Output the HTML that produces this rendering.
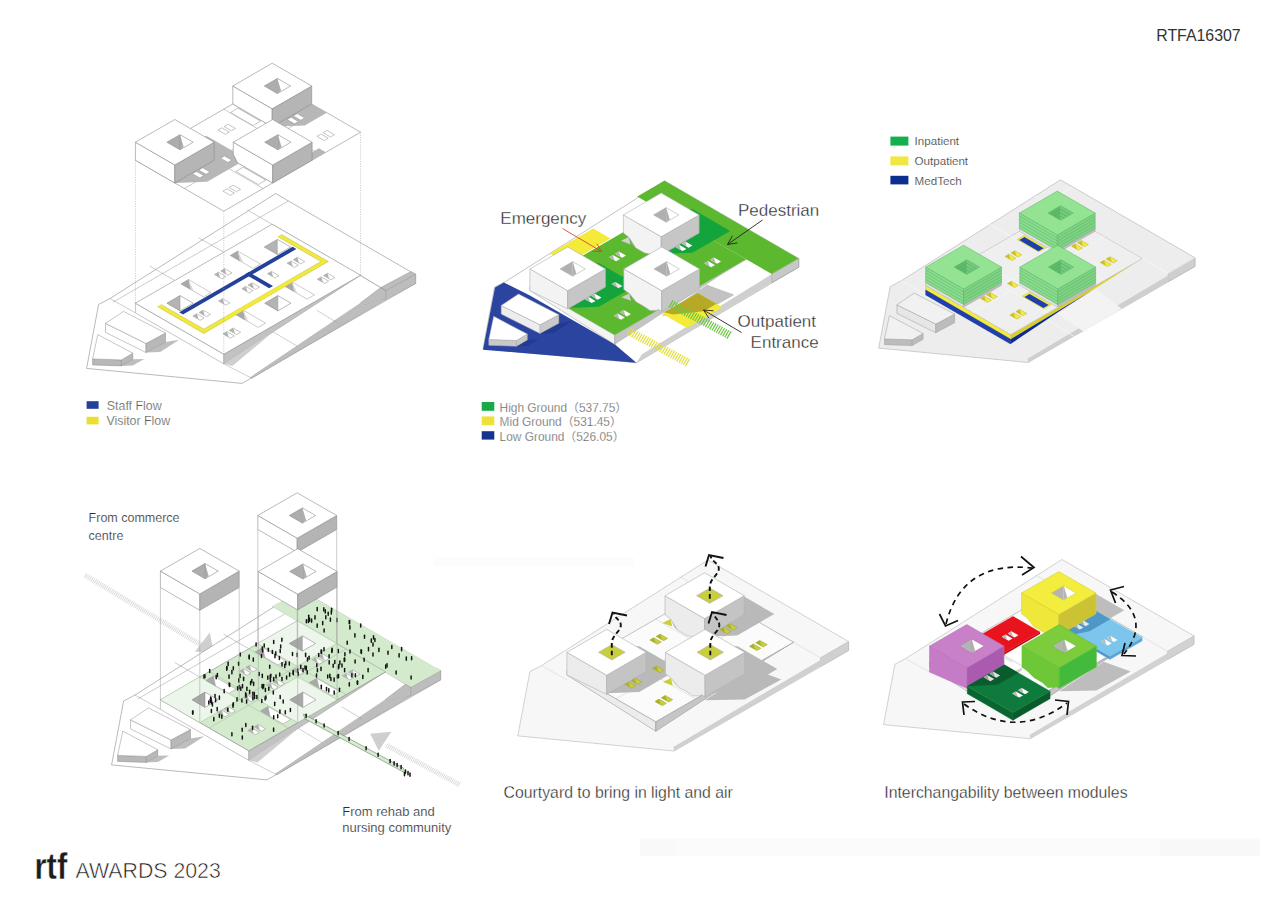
<!DOCTYPE html>
<html lang="en"><head><meta charset="utf-8"><title>RTFA16307</title>
<style>
html,body{margin:0;padding:0;background:#fff;}
body{width:1273px;height:900px;overflow:hidden;font-family:"Liberation Sans",sans-serif;}
svg{display:block;font-family:"Liberation Sans","Noto Sans CJK SC",sans-serif;}
</style></head><body>
<svg width="1273" height="900" viewBox="0 0 1273 900">
<rect width="1273" height="900" fill="#fff"/>
<rect x="640" y="838" width="620" height="18" fill="#fbfbfb"/>
<rect x="1160" y="840" width="100" height="16" fill="#f8f8f8"/>
<rect x="640" y="840" width="36" height="16" fill="#f9f9f9"/>
<rect x="434" y="557" width="200" height="9" fill="#fcfcfc"/>
<text x="1156.2" y="41.0" font-size="15.9" fill="#333" >RTFA16307</text>
<polygon points="708.0,560.0 848.6,641.5 848.6,650.5 674.2,751.0 517.8,735.9 529.9,671.6 541.4,665.6" fill="#f7f7f7" stroke="#b5b5b5" stroke-width="0.6" stroke-linejoin="round" />
<polygon points="848.6,641.5 848.6,650.5 820.5,666.6 820.5,657.8" fill="#d0d0d0" stroke="#b5b5b5" stroke-width="0.5" stroke-linejoin="round" />
<polygon points="820.5,659.9 820.5,666.6 674.2,751.0 673.4,747.0" fill="#d0d0d0" stroke="none" stroke-width="0.6" stroke-linejoin="round" />
<polyline points="679.3,576.3 820.5,657.8" fill="none" stroke="#cfcfcf" stroke-width="0.5" />
<polyline points="820.5,657.8 848.6,641.5" fill="none" stroke="#cfcfcf" stroke-width="0.5" />
<polyline points="541.4,665.6 567.0,679.9" fill="none" stroke="#cfcfcf" stroke-width="0.5" />
<polygon points="705.0,700.3 744.7,699.5 781.3,679.4 752.5,668.9" fill="#b9b9b9" stroke="none" stroke-width="0.6" stroke-linejoin="round" />
<polygon points="720.3,581.8 759.9,604.7 775.2,613.5 759.5,622.6 704.6,590.9" fill="#f7f7f7" stroke="none" stroke-width="0.6" stroke-linejoin="round" />
<polygon points="566.9,670.4 655.8,721.7 655.8,731.3 566.9,675.0" fill="#ececec" stroke="#8a8a8a" stroke-width="0.5" stroke-linejoin="round" />
<polygon points="655.8,721.7 793.5,642.2 767.3,658.3 655.8,731.3" fill="#c6c6c6" stroke="#8a8a8a" stroke-width="0.5" stroke-linejoin="round" />
<polygon points="704.6,590.9 793.5,642.2 655.8,721.7 566.9,670.4" fill="#fbfbfb" stroke="#8a8a8a" stroke-width="0.5" stroke-linejoin="round" />
<polyline points="744.2,613.8 606.6,693.3" fill="none" stroke="#c9c9c9" stroke-width="0.5" />
<polyline points="753.8,619.3 616.2,698.8" fill="none" stroke="#c9c9c9" stroke-width="0.5" />
<polyline points="665.0,613.8 753.8,665.1" fill="none" stroke="#c9c9c9" stroke-width="0.5" />
<polyline points="655.8,619.1 744.7,670.4" fill="none" stroke="#c9c9c9" stroke-width="0.5" />
<polyline points="616.2,642.0 705.0,693.3" fill="none" stroke="#c9c9c9" stroke-width="0.5" />
<polyline points="606.6,647.5 695.5,698.8" fill="none" stroke="#c9c9c9" stroke-width="0.5" />
<polygon points="665.0,613.8 704.6,636.7 737.2,635.4 774.3,614.0 732.4,589.8 704.6,590.9" fill="#b9b9b9" stroke="none" stroke-width="0.6" stroke-linejoin="round" />
<polygon points="566.9,670.4 606.6,693.3 639.2,692.0 678.8,669.1 639.2,646.2 606.6,647.5" fill="#b9b9b9" stroke="none" stroke-width="0.6" stroke-linejoin="round" />
<polygon points="665.4,670.4 705.0,693.3 737.7,692.0 777.3,669.1 737.7,646.2 705.0,647.5" fill="#b9b9b9" stroke="none" stroke-width="0.6" stroke-linejoin="round" />
<polygon points="660.2,634.1 667.6,638.4 663.6,640.7 656.2,636.4" fill="#c9cf3c" stroke="#9aa02a" stroke-width="0.5" stroke-linejoin="round" />
<polygon points="660.2,634.1 656.2,636.4 661.9,639.7" fill="#aab02e" stroke="none" stroke-width="0.6" stroke-linejoin="round" />
<polygon points="653.9,637.7 661.3,642.0 657.3,644.3 649.9,640.0" fill="#c9cf3c" stroke="#9aa02a" stroke-width="0.5" stroke-linejoin="round" />
<polygon points="653.9,637.7 649.9,640.0 655.6,643.3" fill="#aab02e" stroke="none" stroke-width="0.6" stroke-linejoin="round" />
<polygon points="665.3,695.4 672.7,699.7 668.7,702.0 661.3,697.8" fill="#c9cf3c" stroke="#9aa02a" stroke-width="0.5" stroke-linejoin="round" />
<polygon points="665.3,695.4 661.3,697.8 666.9,701.0" fill="#aab02e" stroke="none" stroke-width="0.6" stroke-linejoin="round" />
<polygon points="659.0,699.1 666.4,703.3 662.4,705.7 655.0,701.4" fill="#c9cf3c" stroke="#9aa02a" stroke-width="0.5" stroke-linejoin="round" />
<polygon points="659.0,699.1 655.0,701.4 660.6,704.7" fill="#aab02e" stroke="none" stroke-width="0.6" stroke-linejoin="round" />
<polygon points="759.8,640.4 767.2,644.6 763.2,647.0 755.8,642.7" fill="#c9cf3c" stroke="#9aa02a" stroke-width="0.5" stroke-linejoin="round" />
<polygon points="759.8,640.4 755.8,642.7 761.4,646.0" fill="#aab02e" stroke="none" stroke-width="0.6" stroke-linejoin="round" />
<polygon points="753.5,644.0 760.9,648.3 756.9,650.6 749.5,646.3" fill="#c9cf3c" stroke="#9aa02a" stroke-width="0.5" stroke-linejoin="round" />
<polygon points="753.5,644.0 749.5,646.3 755.2,649.6" fill="#aab02e" stroke="none" stroke-width="0.6" stroke-linejoin="round" />
<polygon points="729.8,623.5 737.2,627.7 733.2,630.1 725.8,625.8" fill="#c9cf3c" stroke="#9aa02a" stroke-width="0.5" stroke-linejoin="round" />
<polygon points="729.8,623.5 725.8,625.8 731.5,629.1" fill="#aab02e" stroke="none" stroke-width="0.6" stroke-linejoin="round" />
<polygon points="723.5,627.1 731.0,631.4 726.9,633.7 719.5,629.4" fill="#c9cf3c" stroke="#9aa02a" stroke-width="0.5" stroke-linejoin="round" />
<polygon points="723.5,627.1 719.5,629.4 725.2,632.7" fill="#aab02e" stroke="none" stroke-width="0.6" stroke-linejoin="round" />
<polygon points="634.6,677.9 642.0,682.2 638.0,684.5 630.6,680.3" fill="#c9cf3c" stroke="#9aa02a" stroke-width="0.5" stroke-linejoin="round" />
<polygon points="634.6,677.9 630.6,680.3 636.3,683.5" fill="#aab02e" stroke="none" stroke-width="0.6" stroke-linejoin="round" />
<polygon points="628.3,681.6 635.7,685.8 631.7,688.2 624.3,683.9" fill="#c9cf3c" stroke="#9aa02a" stroke-width="0.5" stroke-linejoin="round" />
<polygon points="628.3,681.6 624.3,683.9 630.0,687.1" fill="#aab02e" stroke="none" stroke-width="0.6" stroke-linejoin="round" />
<polygon points="656.6,666.0 664.0,670.2 659.9,672.6 652.5,668.3" fill="#c9cf3c" stroke="#9aa02a" stroke-width="0.5" stroke-linejoin="round" />
<polygon points="656.6,666.0 652.5,668.3 658.2,671.6" fill="#aab02e" stroke="none" stroke-width="0.6" stroke-linejoin="round" />
<polygon points="665.0,595.7 704.6,618.6 704.6,637.7 701.1,635.7 699.4,636.7 692.4,636.7 686.7,635.4 677.7,630.2 670.7,619.1 665.0,614.8" fill="#ececec" stroke="#b0b0b0" stroke-width="0.6" stroke-linejoin="round" />
<polygon points="662.4,622.9 670.5,619.0 672.4,626.6" fill="#c9cf3c" stroke="none" stroke-width="0.6" stroke-linejoin="round" />
<polygon points="670.7,619.1 677.7,630.2 674.5,627.4" fill="#b9b9b9" stroke="none" stroke-width="0.6" stroke-linejoin="round" />
<polygon points="704.6,618.6 744.2,595.7 744.2,614.8 704.6,637.7" fill="#c4c4c4" stroke="#b0b0b0" stroke-width="0.6" stroke-linejoin="round" />
<polygon points="704.6,572.8 744.2,595.7 704.6,618.6 665.0,595.7" fill="#fff" stroke="#b0b0b0" stroke-width="0.6" stroke-linejoin="round" />
<polygon points="709.8,588.0 696.6,595.7 709.8,603.3" fill="#c9cf3c" stroke="none" stroke-width="0.6" stroke-linejoin="round" />
<polygon points="709.8,588.0 723.1,595.7 709.8,603.3" fill="#c9cf3c" stroke="none" stroke-width="0.6" stroke-linejoin="round" />
<polygon points="709.8,588.0 723.1,595.7 709.8,603.3 696.6,595.7" fill="none" stroke="#b0b0b0" stroke-width="0.6" stroke-linejoin="round" />
<polyline points="709.8,588.0 709.8,603.3" fill="none" stroke="#b0b0b0" stroke-width="0.5" />
<polygon points="566.9,652.3 606.6,675.2 606.6,694.3 566.9,675.0" fill="#ececec" stroke="#b0b0b0" stroke-width="0.6" stroke-linejoin="round" />
<polygon points="606.6,675.2 646.2,652.3 646.2,671.4 606.6,694.3" fill="#c4c4c4" stroke="#b0b0b0" stroke-width="0.6" stroke-linejoin="round" />
<polygon points="606.6,629.4 646.2,652.3 606.6,675.2 566.9,652.3" fill="#fff" stroke="#b0b0b0" stroke-width="0.6" stroke-linejoin="round" />
<polygon points="611.8,644.6 598.6,652.3 611.8,659.9" fill="#c9cf3c" stroke="none" stroke-width="0.6" stroke-linejoin="round" />
<polygon points="611.8,644.6 625.1,652.3 611.8,659.9" fill="#c9cf3c" stroke="none" stroke-width="0.6" stroke-linejoin="round" />
<polygon points="611.8,644.6 625.1,652.3 611.8,659.9 598.6,652.3" fill="none" stroke="#b0b0b0" stroke-width="0.6" stroke-linejoin="round" />
<polyline points="611.8,644.6 611.8,659.9" fill="none" stroke="#b0b0b0" stroke-width="0.5" />
<polygon points="665.4,652.3 705.0,675.2 705.0,696.8 701.6,694.8 699.8,695.8 692.8,695.8 687.2,692.0 678.1,686.8 671.1,678.2 665.4,673.9" fill="#ececec" stroke="#b0b0b0" stroke-width="0.6" stroke-linejoin="round" />
<polygon points="662.9,682.0 671.0,678.1 672.8,685.7" fill="#c9cf3c" stroke="none" stroke-width="0.6" stroke-linejoin="round" />
<polygon points="671.1,678.2 678.1,686.8 675.0,684.0" fill="#b9b9b9" stroke="none" stroke-width="0.6" stroke-linejoin="round" />
<polygon points="705.0,675.2 744.7,652.3 744.7,673.9 705.0,696.8" fill="#c4c4c4" stroke="#b0b0b0" stroke-width="0.6" stroke-linejoin="round" />
<polygon points="705.0,629.4 744.7,652.3 705.0,675.2 665.4,652.3" fill="#fff" stroke="#b0b0b0" stroke-width="0.6" stroke-linejoin="round" />
<polygon points="710.3,644.6 697.0,652.3 710.3,659.9" fill="#c9cf3c" stroke="none" stroke-width="0.6" stroke-linejoin="round" />
<polygon points="710.3,644.6 723.5,652.3 710.3,659.9" fill="#c9cf3c" stroke="none" stroke-width="0.6" stroke-linejoin="round" />
<polygon points="710.3,644.6 723.5,652.3 710.3,659.9 697.0,652.3" fill="none" stroke="#b0b0b0" stroke-width="0.6" stroke-linejoin="round" />
<polyline points="710.3,644.6 710.3,659.9" fill="none" stroke="#b0b0b0" stroke-width="0.5" />
<path d="M709.8,598.7 L709.8,586.7 C709.8,578.7 718.8,574.7 718.8,568.7 S712.5,563.0 710.5,556.0" fill="none" stroke="#111" stroke-width="1.9" stroke-dasharray="4.6 3"/>
<polyline points="705.5,566.5 709.0,555.0 723.5,558.0" fill="none" stroke="#111" stroke-width="1.9" stroke-linejoin="miter"/>
<path d="M611.8,655.3 L611.8,643.3 C611.8,635.3 620.8,631.3 620.8,625.3 S616.0,620.5 614.0,613.5" fill="none" stroke="#111" stroke-width="1.9" stroke-dasharray="4.6 3"/>
<polyline points="609.0,624.0 612.5,612.5 627.0,615.5" fill="none" stroke="#111" stroke-width="1.9" stroke-linejoin="miter"/>
<path d="M710.3,655.3 L710.3,643.3 C710.3,635.3 719.3,631.3 719.3,625.3 S715.5,620.0 713.5,613.0" fill="none" stroke="#111" stroke-width="1.9" stroke-dasharray="4.6 3"/>
<polyline points="708.5,623.5 712.0,612.0 726.5,615.0" fill="none" stroke="#111" stroke-width="1.9" stroke-linejoin="miter"/>
<text x="503.6" y="797.5" font-size="15.8" fill="#222"  stroke="#fff" stroke-width="0.32">Courtyard to bring in light and air</text>
<polygon points="1062.0,559.5 1193.9,635.9 1193.9,644.4 1030.2,738.7 883.5,724.6 894.9,664.3 905.6,658.6" fill="#f7f7f7" stroke="#b5b5b5" stroke-width="0.6" stroke-linejoin="round" />
<polygon points="1193.9,635.9 1193.9,644.4 1167.5,659.5 1167.5,651.3" fill="#d2d2d2" stroke="#b5b5b5" stroke-width="0.5" stroke-linejoin="round" />
<polygon points="1167.5,653.3 1167.5,659.5 1030.2,738.7 1029.5,735.0" fill="#d2d2d2" stroke="none" stroke-width="0.6" stroke-linejoin="round" />
<polyline points="1035.1,574.8 1167.5,651.3" fill="none" stroke="#cfcfcf" stroke-width="0.5" />
<polyline points="1167.5,651.3 1193.9,635.9" fill="none" stroke="#cfcfcf" stroke-width="0.5" />
<polyline points="905.6,658.6 929.7,672.0" fill="none" stroke="#cfcfcf" stroke-width="0.5" />
<polygon points="1059.2,691.2 1096.4,690.5 1130.7,671.6 1103.8,661.7" fill="#bdbdbd" stroke="none" stroke-width="0.6" stroke-linejoin="round" />
<polygon points="929.6,663.1 1013.0,711.2 1013.0,720.3 929.6,667.4" fill="#ececec" stroke="#8a8a8a" stroke-width="0.5" stroke-linejoin="round" />
<polygon points="1013.0,711.2 1142.2,636.6 1117.7,651.7 1013.0,720.3" fill="#c6c6c6" stroke="#8a8a8a" stroke-width="0.5" stroke-linejoin="round" />
<polygon points="1058.8,588.5 1142.2,636.6 1013.0,711.2 929.6,663.1" fill="#fdfdfd" stroke="#8a8a8a" stroke-width="0.5" stroke-linejoin="round" />
<polygon points="1021.6,610.0 1058.8,631.5 1089.4,630.3 1124.2,610.2 1084.8,587.5 1058.8,588.5" fill="#bdbdbd" stroke="none" stroke-width="0.6" stroke-linejoin="round" />
<polygon points="975.8,637.8 1002.8,653.4 1002.8,656.2 975.8,640.7" fill="#c70f18" stroke="#e8131d" stroke-width="0.3" stroke-linejoin="round" />
<polygon points="1002.8,653.4 1040.0,631.9 1040.0,634.8 1002.8,656.2" fill="#b8101a" stroke="#e8131d" stroke-width="0.3" stroke-linejoin="round" />
<polygon points="1013.0,616.3 1040.0,631.9 1002.8,653.4 975.8,637.8" fill="#e8131d" stroke="#e8131d" stroke-width="0.3" stroke-linejoin="round" />
<polygon points="1011.4,631.2 1018.4,635.2 1014.6,637.4 1007.7,633.4" fill="#fff" stroke="none" stroke-width="0.5" stroke-linejoin="round" />
<polygon points="1011.4,631.2 1007.7,633.4 1013.0,636.4" fill="#b9b9b9" stroke="none" stroke-width="0.6" stroke-linejoin="round" />
<polygon points="1005.5,634.6 1012.5,638.6 1008.7,640.8 1001.8,636.8" fill="#fff" stroke="none" stroke-width="0.5" stroke-linejoin="round" />
<polygon points="1005.5,634.6 1001.8,636.8 1007.1,639.8" fill="#b9b9b9" stroke="none" stroke-width="0.6" stroke-linejoin="round" />
<polygon points="1004.8,654.6 1022.0,664.5 1022.0,668.7 1004.8,658.8" fill="#e6e6e6" stroke="#fff" stroke-width="0.3" stroke-linejoin="round" />
<polygon points="1022.0,664.5 1067.8,638.1 1067.8,642.3 1022.0,668.7" fill="#d0d0d0" stroke="#fff" stroke-width="0.3" stroke-linejoin="round" />
<polygon points="1050.6,628.1 1067.8,638.1 1022.0,664.5 1004.8,654.6" fill="#fff" stroke="#fff" stroke-width="0.3" stroke-linejoin="round" />
<polygon points="1004.0,666.9 1013.0,672.0 1013.0,675.8 1004.0,670.6" fill="#e2e2e2" stroke="#fff" stroke-width="0.3" stroke-linejoin="round" />
<polygon points="1013.0,672.0 1022.0,666.9 1022.0,670.6 1013.0,675.8" fill="#d0d0d0" stroke="#fff" stroke-width="0.3" stroke-linejoin="round" />
<polygon points="1013.0,661.7 1022.0,666.9 1013.0,672.0 1004.0,666.9" fill="#fff" stroke="#fff" stroke-width="0.3" stroke-linejoin="round" />
<polygon points="1063.8,629.5 1110.0,656.2 1110.0,659.5 1063.8,632.8" fill="#4f97c8" stroke="#7cc6ee" stroke-width="0.3" stroke-linejoin="round" />
<polygon points="1110.0,656.2 1142.2,637.6 1142.2,640.9 1110.0,659.5" fill="#5aa2d2" stroke="#7cc6ee" stroke-width="0.3" stroke-linejoin="round" />
<polygon points="1096.0,610.9 1142.2,637.6 1110.0,656.2 1063.8,629.5" fill="#7cc6ee" stroke="#7cc6ee" stroke-width="0.3" stroke-linejoin="round" />
<polygon points="1063.8,629.5 1072.8,634.7 1089.5,631.2 1110.3,619.2 1096.0,610.9" fill="#4f97c6" stroke="none" stroke-width="0.6" stroke-linejoin="round" />
<polygon points="1082.5,620.0 1089.4,624.0 1085.7,626.2 1078.7,622.2" fill="#e8e8e8" stroke="none" stroke-width="0.5" stroke-linejoin="round" />
<polygon points="1082.5,620.0 1078.7,622.2 1084.0,625.2" fill="#9ab" stroke="none" stroke-width="0.6" stroke-linejoin="round" />
<polygon points="1076.6,623.4 1083.5,627.4 1079.8,629.6 1072.8,625.6" fill="#e8e8e8" stroke="none" stroke-width="0.5" stroke-linejoin="round" />
<polygon points="1076.6,623.4 1072.8,625.6 1078.1,628.6" fill="#9ab" stroke="none" stroke-width="0.6" stroke-linejoin="round" />
<polygon points="1110.6,635.9 1117.5,639.9 1113.8,642.0 1106.8,638.0" fill="#fff" stroke="none" stroke-width="0.5" stroke-linejoin="round" />
<polygon points="1110.6,635.9 1106.8,638.0 1112.1,641.1" fill="#b9b9b9" stroke="none" stroke-width="0.6" stroke-linejoin="round" />
<polygon points="1104.7,639.3 1111.7,643.3 1107.9,645.4 1100.9,641.4" fill="#fff" stroke="none" stroke-width="0.5" stroke-linejoin="round" />
<polygon points="1104.7,639.3 1100.9,641.4 1106.3,644.5" fill="#b9b9b9" stroke="none" stroke-width="0.6" stroke-linejoin="round" />
<polygon points="1021.6,593.0 1058.8,614.5 1058.8,635.2 1055.5,633.3 1053.9,634.3 1047.4,634.3 1042.0,631.2 1033.5,626.3 1027.0,617.8 1021.6,613.8" fill="#efe83a" stroke="#d8d036" stroke-width="0.6" stroke-linejoin="round" />
<polygon points="1058.8,614.5 1096.0,593.0 1096.0,613.8 1058.8,635.2" fill="#cbc333" stroke="#d8d036" stroke-width="0.6" stroke-linejoin="round" />
<polygon points="1058.8,571.5 1096.0,593.0 1058.8,614.5 1021.6,593.0" fill="#f3ed3d" stroke="#d8d036" stroke-width="0.6" stroke-linejoin="round" />
<polygon points="1063.7,585.8 1051.3,593.0 1063.7,600.2" fill="#b4b4b4" stroke="none" stroke-width="0.6" stroke-linejoin="round" />
<polygon points="1063.7,585.8 1076.1,593.0 1063.7,600.2" fill="#fff" stroke="none" stroke-width="0.6" stroke-linejoin="round" />
<polygon points="1063.7,585.8 1067.2,597.6 1063.7,600.2" fill="#b4b4b4" stroke="none" stroke-width="0.6" stroke-linejoin="round" />
<polygon points="1063.7,585.8 1076.1,593.0 1063.7,600.2 1051.3,593.0" fill="none" stroke="#d8d036" stroke-width="0.6" stroke-linejoin="round" />
<polyline points="1063.7,585.8 1063.7,600.2" fill="none" stroke="#d8d036" stroke-width="0.5" />
<polygon points="929.6,646.1 966.8,667.6 966.8,688.3 929.6,672.1" fill="#c67bc7" stroke="#b86fba" stroke-width="0.6" stroke-linejoin="round" />
<polygon points="966.8,667.6 1004.0,646.1 1004.0,666.9 966.8,688.3" fill="#aa5bb0" stroke="#b86fba" stroke-width="0.6" stroke-linejoin="round" />
<polygon points="966.8,624.6 1004.0,646.1 966.8,667.6 929.6,646.1" fill="#c880c9" stroke="#b86fba" stroke-width="0.6" stroke-linejoin="round" />
<polygon points="971.7,638.9 959.3,646.1 971.7,653.3" fill="#b4b4b4" stroke="none" stroke-width="0.6" stroke-linejoin="round" />
<polygon points="971.7,638.9 984.2,646.1 971.7,653.3" fill="#fff" stroke="none" stroke-width="0.6" stroke-linejoin="round" />
<polygon points="971.7,638.9 975.2,650.7 971.7,653.3" fill="#b4b4b4" stroke="none" stroke-width="0.6" stroke-linejoin="round" />
<polygon points="971.7,638.9 984.2,646.1 971.7,653.3 959.3,646.1" fill="none" stroke="#b86fba" stroke-width="0.6" stroke-linejoin="round" />
<polyline points="971.7,638.9 971.7,653.3" fill="none" stroke="#b86fba" stroke-width="0.5" />
<polygon points="967.2,686.2 1013.0,712.6 1013.0,720.2 967.2,693.8" fill="#0a6631" stroke="#0e7a3b" stroke-width="0.3" stroke-linejoin="round" />
<polygon points="1013.0,712.6 1050.2,691.2 1050.2,698.7 1013.0,720.2" fill="#0b5a2c" stroke="#0e7a3b" stroke-width="0.3" stroke-linejoin="round" />
<polygon points="1004.4,664.7 1050.2,691.2 1013.0,712.6 967.2,686.2" fill="#0e7a3b" stroke="#0e7a3b" stroke-width="0.3" stroke-linejoin="round" />
<polygon points="967.2,686.2 997.5,684.8 1018.3,672.8 1004.4,664.7" fill="#0a5c2d" stroke="none" stroke-width="0.6" stroke-linejoin="round" />
<polygon points="993.1,671.6 1000.1,675.6 996.3,677.8 989.4,673.8" fill="#e0e0e0" stroke="none" stroke-width="0.5" stroke-linejoin="round" />
<polygon points="993.1,671.6 989.4,673.8 994.7,676.8" fill="#9a9a9a" stroke="none" stroke-width="0.6" stroke-linejoin="round" />
<polygon points="987.2,675.0 994.2,679.0 990.4,681.2 983.5,677.2" fill="#e0e0e0" stroke="none" stroke-width="0.5" stroke-linejoin="round" />
<polygon points="987.2,675.0 983.5,677.2 988.8,680.2" fill="#9a9a9a" stroke="none" stroke-width="0.6" stroke-linejoin="round" />
<polygon points="1021.9,688.0 1028.8,692.0 1025.1,694.2 1018.1,690.2" fill="#fff" stroke="none" stroke-width="0.5" stroke-linejoin="round" />
<polygon points="1021.9,688.0 1018.1,690.2 1023.4,693.3" fill="#b9b9b9" stroke="none" stroke-width="0.6" stroke-linejoin="round" />
<polygon points="1016.0,691.4 1023.0,695.4 1019.2,697.6 1012.2,693.6" fill="#fff" stroke="none" stroke-width="0.5" stroke-linejoin="round" />
<polygon points="1016.0,691.4 1012.2,693.6 1017.6,696.7" fill="#b9b9b9" stroke="none" stroke-width="0.6" stroke-linejoin="round" />
<polygon points="1022.0,646.1 1059.2,667.6 1059.2,688.3 1055.9,686.4 1054.3,687.4 1047.8,687.4 1042.4,682.4 1033.9,677.5 1027.4,670.9 1022.0,666.9" fill="#6dc737" stroke="#62c038" stroke-width="0.6" stroke-linejoin="round" />
<polygon points="1059.2,667.6 1096.4,646.1 1096.4,666.9 1059.2,688.3" fill="#43ba3b" stroke="#62c038" stroke-width="0.6" stroke-linejoin="round" />
<polygon points="1059.2,624.6 1096.4,646.1 1059.2,667.6 1022.0,646.1" fill="#7dcc3c" stroke="#62c038" stroke-width="0.6" stroke-linejoin="round" />
<polygon points="1064.1,638.9 1051.7,646.1 1064.1,653.3" fill="#b4b4b4" stroke="none" stroke-width="0.6" stroke-linejoin="round" />
<polygon points="1064.1,638.9 1076.5,646.1 1064.1,653.3" fill="#fff" stroke="none" stroke-width="0.6" stroke-linejoin="round" />
<polygon points="1064.1,638.9 1067.6,650.7 1064.1,653.3" fill="#b4b4b4" stroke="none" stroke-width="0.6" stroke-linejoin="round" />
<polygon points="1064.1,638.9 1076.5,646.1 1064.1,653.3 1051.7,646.1" fill="none" stroke="#62c038" stroke-width="0.6" stroke-linejoin="round" />
<polyline points="1064.1,638.9 1064.1,653.3" fill="none" stroke="#62c038" stroke-width="0.5" />
<path d="M946.0,624.0 Q962.0,560.0 1032.0,568.0" fill="none" stroke="#111" stroke-width="1.7" stroke-dasharray="5.5 4.5"/>
<polyline points="939.5,614.0 945.5,626.0 958.0,620.5" fill="none" stroke="#111" stroke-width="1.7"/>
<polyline points="1021.0,556.5 1034.0,567.5 1022.0,575.0" fill="none" stroke="#111" stroke-width="1.7"/>
<path d="M1112.0,592.0 Q1153.0,618.0 1124.0,654.0" fill="none" stroke="#111" stroke-width="1.7" stroke-dasharray="5.5 4.5"/>
<polyline points="1124.0,586.5 1110.5,590.0 1115.5,603.0" fill="none" stroke="#111" stroke-width="1.7"/>
<polyline points="1125.0,643.0 1122.0,655.5 1136.0,656.0" fill="none" stroke="#111" stroke-width="1.7"/>
<path d="M964.0,704.0 Q1016.0,741.0 1067.0,703.0" fill="none" stroke="#111" stroke-width="1.7" stroke-dasharray="5.5 4.5"/>
<polyline points="964.0,715.0 962.5,702.0 975.0,701.5" fill="none" stroke="#111" stroke-width="1.7"/>
<polyline points="1055.0,700.0 1068.5,701.5 1067.0,715.0" fill="none" stroke="#111" stroke-width="1.7"/>
<text x="884.3" y="797.5" font-size="15.8" fill="#222"  stroke="#fff" stroke-width="0.32">Interchangability between modules</text>
<polygon points="1060.5,179.8 1195.0,257.7 1195.0,266.4 1028.2,362.5 878.7,348.1 890.2,286.6 901.2,280.8" fill="#ededed" stroke="#b0b0b0" stroke-width="0.6" stroke-linejoin="round" />
<polygon points="1195.0,257.7 1195.0,266.4 1168.1,281.7 1168.1,273.4" fill="#cfcfcf" stroke="#b0b0b0" stroke-width="0.5" stroke-linejoin="round" />
<polygon points="1168.1,275.4 1168.1,281.7 1028.2,362.5 1027.5,358.7" fill="#cfcfcf" stroke="none" stroke-width="0.6" stroke-linejoin="round" />
<polyline points="1033.2,195.5 1168.1,273.4" fill="none" stroke="#fff" stroke-width="0.5" />
<polyline points="1168.1,273.4 1195.0,257.7" fill="none" stroke="#fff" stroke-width="0.5" />
<polyline points="901.2,280.8 925.7,294.5" fill="none" stroke="#fff" stroke-width="0.5" />
<polyline points="986.5,222.4 1010.6,236.3" fill="none" stroke="#fbfbfb" stroke-width="0.6" />
<polyline points="939.4,249.6 963.6,263.5" fill="none" stroke="#fbfbfb" stroke-width="0.6" />
<polyline points="1072.7,187.0 1045.6,202.7" fill="none" stroke="#fbfbfb" stroke-width="0.6" />
<polyline points="1095.6,289.2 1121.4,309.0" fill="none" stroke="#fbfbfb" stroke-width="0.6" />
<polyline points="1048.6,320.3 1074.4,336.7" fill="none" stroke="#fbfbfb" stroke-width="0.6" />
<polygon points="1095.6,289.2 1057.7,314.0 1083.5,331.4 1121.4,309.0" fill="#f3f3f3" stroke="none" stroke-width="0.6" stroke-linejoin="round" />
<polygon points="896.9,304.8 935.8,324.1 935.8,332.8 896.9,313.4" fill="#e6e6e6" stroke="#9c9c9c" stroke-width="0.5" stroke-linejoin="round" />
<polygon points="935.8,324.1 954.6,314.0 954.6,322.7 935.8,332.8" fill="#bcbcbc" stroke="#9c9c9c" stroke-width="0.5" stroke-linejoin="round" />
<polygon points="896.9,304.8 914.2,293.2 954.6,314.0 935.8,324.1" fill="#f1f1f1" stroke="#9c9c9c" stroke-width="0.5" stroke-linejoin="round" />
<polygon points="884.5,338.9 912.2,339.8 912.2,345.6 884.5,344.7" fill="#bcbcbc" stroke="#9c9c9c" stroke-width="0.5" stroke-linejoin="round" />
<polygon points="912.2,339.8 923.1,333.5 923.1,339.3 912.2,345.6" fill="#bcbcbc" stroke="#9c9c9c" stroke-width="0.5" stroke-linejoin="round" />
<polygon points="884.5,338.9 889.4,315.6 923.1,333.5 912.2,339.8" fill="#f1f1f1" stroke="#9c9c9c" stroke-width="0.5" stroke-linejoin="round" />
<polygon points="925.7,285.4 1010.6,334.5 1010.6,339.2 925.7,290.1" fill="#f3ec3f" stroke="#b9b22c" stroke-width="0.4" stroke-linejoin="round" />
<polygon points="925.7,290.1 1010.6,339.2 1010.6,344.0 925.7,294.9" fill="#1f3fae" stroke="#0f2c8c" stroke-width="0.4" stroke-linejoin="round" />
<polygon points="1010.6,334.5 1142.3,258.5 1092.3,290.2 1010.6,339.2" fill="#d8cf2f" stroke="none" stroke-width="0.6" stroke-linejoin="round" />
<polygon points="1010.6,339.2 1092.3,290.2 1059.0,311.4 1010.6,344.0" fill="#0f2c8c" stroke="none" stroke-width="0.6" stroke-linejoin="round" />
<polygon points="1057.3,209.4 1142.3,258.5 1010.6,334.5 925.7,285.4" fill="#efefef" stroke="#b5b5b5" stroke-width="0.5" stroke-linejoin="round" />
<polyline points="1019.4,231.3 1104.4,280.3" fill="none" stroke="#fbfbfb" stroke-width="0.5" />
<polyline points="1010.6,236.3 1095.6,285.4" fill="none" stroke="#fbfbfb" stroke-width="0.5" />
<polyline points="972.7,258.2 1057.7,307.3" fill="none" stroke="#fbfbfb" stroke-width="0.5" />
<polyline points="963.6,263.5 1048.6,312.6" fill="none" stroke="#fbfbfb" stroke-width="0.5" />
<polyline points="1095.2,231.3 963.6,307.3" fill="none" stroke="#fbfbfb" stroke-width="0.5" />
<polyline points="1104.4,236.6 972.7,312.6" fill="none" stroke="#fbfbfb" stroke-width="0.5" />
<polygon points="1014.9,250.7 1021.9,254.8 1018.1,257.0 1011.0,252.9" fill="#f3ec3f" stroke="#bdb52c" stroke-width="0.5" stroke-linejoin="round" />
<polygon points="1014.9,250.7 1011.0,252.9 1016.4,256.0" fill="#c9c02c" stroke="none" stroke-width="0.6" stroke-linejoin="round" />
<polygon points="1008.9,254.2 1015.9,258.2 1012.1,260.5 1005.0,256.4" fill="#f3ec3f" stroke="#bdb52c" stroke-width="0.5" stroke-linejoin="round" />
<polygon points="1008.9,254.2 1005.0,256.4 1010.4,259.5" fill="#c9c02c" stroke="none" stroke-width="0.6" stroke-linejoin="round" />
<polygon points="1019.7,309.4 1026.8,313.5 1022.9,315.7 1015.9,311.6" fill="#f3ec3f" stroke="#bdb52c" stroke-width="0.5" stroke-linejoin="round" />
<polygon points="1019.7,309.4 1015.9,311.6 1021.3,314.7" fill="#c9c02c" stroke="none" stroke-width="0.6" stroke-linejoin="round" />
<polygon points="1013.7,312.8 1020.8,316.9 1016.9,319.1 1009.9,315.1" fill="#f3ec3f" stroke="#bdb52c" stroke-width="0.5" stroke-linejoin="round" />
<polygon points="1013.7,312.8 1009.9,315.1 1015.3,318.2" fill="#c9c02c" stroke="none" stroke-width="0.6" stroke-linejoin="round" />
<polygon points="1110.1,256.7 1117.2,260.8 1113.3,263.0 1106.2,258.9" fill="#f3ec3f" stroke="#bdb52c" stroke-width="0.5" stroke-linejoin="round" />
<polygon points="1110.1,256.7 1106.2,258.9 1111.7,262.0" fill="#c9c02c" stroke="none" stroke-width="0.6" stroke-linejoin="round" />
<polygon points="1104.1,260.2 1111.2,264.3 1107.3,266.5 1100.2,262.4" fill="#f3ec3f" stroke="#bdb52c" stroke-width="0.5" stroke-linejoin="round" />
<polygon points="1104.1,260.2 1100.2,262.4 1105.7,265.5" fill="#c9c02c" stroke="none" stroke-width="0.6" stroke-linejoin="round" />
<polygon points="1081.4,240.5 1088.5,244.6 1084.7,246.8 1077.6,242.8" fill="#f3ec3f" stroke="#bdb52c" stroke-width="0.5" stroke-linejoin="round" />
<polygon points="1081.4,240.5 1077.6,242.8 1083.0,245.9" fill="#c9c02c" stroke="none" stroke-width="0.6" stroke-linejoin="round" />
<polygon points="1075.4,244.0 1082.5,248.1 1078.7,250.3 1071.6,246.2" fill="#f3ec3f" stroke="#bdb52c" stroke-width="0.5" stroke-linejoin="round" />
<polygon points="1075.4,244.0 1071.6,246.2 1077.0,249.3" fill="#c9c02c" stroke="none" stroke-width="0.6" stroke-linejoin="round" />
<polygon points="990.4,292.6 997.4,296.7 993.6,298.9 986.5,294.8" fill="#f3ec3f" stroke="#bdb52c" stroke-width="0.5" stroke-linejoin="round" />
<polygon points="990.4,292.6 986.5,294.8 991.9,298.0" fill="#c9c02c" stroke="none" stroke-width="0.6" stroke-linejoin="round" />
<polygon points="984.4,296.1 991.4,300.2 987.6,302.4 980.5,298.3" fill="#f3ec3f" stroke="#bdb52c" stroke-width="0.5" stroke-linejoin="round" />
<polygon points="984.4,296.1 980.5,298.3 985.9,301.4" fill="#c9c02c" stroke="none" stroke-width="0.6" stroke-linejoin="round" />
<polygon points="1011.4,281.2 1018.4,285.3 1014.6,287.5 1007.5,283.4" fill="#f3ec3f" stroke="#bdb52c" stroke-width="0.5" stroke-linejoin="round" />
<polygon points="1011.4,281.2 1007.5,283.4 1012.9,286.5" fill="#c9c02c" stroke="none" stroke-width="0.6" stroke-linejoin="round" />
<polygon points="1024.5,235.2 1046.1,247.7 1038.6,252.0 1017.0,239.5" fill="#f3ec3f" stroke="#bdb52c" stroke-width="0.4" stroke-linejoin="round" />
<polygon points="1024.5,237.1 1043.6,248.2 1038.4,251.2 1019.2,240.1" fill="#1f3fae" stroke="none" stroke-width="0.6" stroke-linejoin="round" />
<polygon points="1029.6,292.0 1051.2,304.5 1043.7,308.8 1022.1,296.3" fill="#f3ec3f" stroke="#bdb52c" stroke-width="0.4" stroke-linejoin="round" />
<polygon points="1029.6,293.9 1048.7,305.0 1043.5,308.0 1024.3,296.9" fill="#1f3fae" stroke="none" stroke-width="0.6" stroke-linejoin="round" />
<polygon points="1019.4,228.4 1057.3,250.3 1057.3,253.2 1019.4,231.3" fill="#e2e2e2" stroke="#aaa" stroke-width="0.4" stroke-linejoin="round" />
<polygon points="1057.3,250.3 1095.2,228.4 1095.2,231.3 1057.3,253.2" fill="#bdbdbd" stroke="#aaa" stroke-width="0.4" stroke-linejoin="round" />
<polygon points="1057.3,206.5 1095.2,228.4 1057.3,250.3 1019.4,228.4" fill="#ddd" stroke="#aaa" stroke-width="0.4" stroke-linejoin="round" />
<polygon points="1019.4,213.0 1057.3,234.9 1057.3,250.3 1019.4,228.4" fill="#8adb8d" stroke="#56b565" stroke-width="0.5" stroke-linejoin="round" />
<polygon points="1057.3,234.9 1095.2,213.0 1095.2,228.4 1057.3,250.3" fill="#7fd184" stroke="#56b565" stroke-width="0.5" stroke-linejoin="round" />
<polyline points="1019.4,225.3 1057.3,247.2 1095.2,225.3" fill="none" stroke="#56b565" stroke-width="0.5" />
<polyline points="1019.4,222.2 1057.3,244.1 1095.2,222.2" fill="none" stroke="#56b565" stroke-width="0.5" />
<polyline points="1019.4,219.2 1057.3,241.0 1095.2,219.2" fill="none" stroke="#56b565" stroke-width="0.5" />
<polyline points="1019.4,216.1 1057.3,238.0 1095.2,216.1" fill="none" stroke="#56b565" stroke-width="0.5" />
<polygon points="1057.3,191.1 1095.2,213.0 1057.3,234.9 1019.4,213.0" fill="#93e392" stroke="#56b565" stroke-width="0.5" stroke-linejoin="round" />
<polygon points="1060.6,205.7 1048.0,213.0 1060.6,220.3" fill="#5fbb6c" stroke="none" stroke-width="0.6" stroke-linejoin="round" />
<polygon points="1060.6,205.7 1073.3,213.0 1060.6,220.3" fill="#74cb7d" stroke="none" stroke-width="0.6" stroke-linejoin="round" />
<clipPath id="hcA1"><polygon points="1060.6,205.7 1073.3,213.0 1060.6,220.3 1048.0,213.0"/></clipPath>
<polyline points="1048.0,216.5 1060.6,209.2 1073.3,216.5" fill="none" stroke="#4aa75a" stroke-width="0.5" clip-path="url(#hcA1)"/>
<clipPath id="hcA2"><polygon points="1060.6,205.7 1073.3,213.0 1060.6,220.3 1048.0,213.0"/></clipPath>
<polyline points="1048.0,219.9 1060.6,212.6 1073.3,219.9" fill="none" stroke="#4aa75a" stroke-width="0.5" clip-path="url(#hcA2)"/>
<clipPath id="hcA3"><polygon points="1060.6,205.7 1073.3,213.0 1060.6,220.3 1048.0,213.0"/></clipPath>
<polyline points="1048.0,223.4 1060.6,216.1 1073.3,223.4" fill="none" stroke="#4aa75a" stroke-width="0.5" clip-path="url(#hcA3)"/>
<polygon points="1060.6,205.7 1073.3,213.0 1060.6,220.3 1048.0,213.0" fill="none" stroke="#56b565" stroke-width="0.5" stroke-linejoin="round" />
<polygon points="925.7,282.5 963.6,304.4 963.6,307.3 925.7,285.4" fill="#e2e2e2" stroke="#aaa" stroke-width="0.4" stroke-linejoin="round" />
<polygon points="963.6,304.4 1001.5,282.5 1001.5,285.4 963.6,307.3" fill="#bdbdbd" stroke="#aaa" stroke-width="0.4" stroke-linejoin="round" />
<polygon points="963.6,260.6 1001.5,282.5 963.6,304.4 925.7,282.5" fill="#ddd" stroke="#aaa" stroke-width="0.4" stroke-linejoin="round" />
<polygon points="925.7,267.1 963.6,289.0 963.6,304.4 925.7,282.5" fill="#8adb8d" stroke="#56b565" stroke-width="0.5" stroke-linejoin="round" />
<polygon points="963.6,289.0 1001.5,267.1 1001.5,282.5 963.6,304.4" fill="#7fd184" stroke="#56b565" stroke-width="0.5" stroke-linejoin="round" />
<polyline points="925.7,279.4 963.6,301.3 1001.5,279.4" fill="none" stroke="#56b565" stroke-width="0.5" />
<polyline points="925.7,276.4 963.6,298.2 1001.5,276.4" fill="none" stroke="#56b565" stroke-width="0.5" />
<polyline points="925.7,273.3 963.6,295.2 1001.5,273.3" fill="none" stroke="#56b565" stroke-width="0.5" />
<polyline points="925.7,270.2 963.6,292.1 1001.5,270.2" fill="none" stroke="#56b565" stroke-width="0.5" />
<polygon points="963.6,245.2 1001.5,267.1 963.6,289.0 925.7,267.1" fill="#93e392" stroke="#56b565" stroke-width="0.5" stroke-linejoin="round" />
<polygon points="966.9,259.8 954.2,267.1 966.9,274.4" fill="#5fbb6c" stroke="none" stroke-width="0.6" stroke-linejoin="round" />
<polygon points="966.9,259.8 979.6,267.1 966.9,274.4" fill="#74cb7d" stroke="none" stroke-width="0.6" stroke-linejoin="round" />
<clipPath id="hcB1"><polygon points="966.9,259.8 979.6,267.1 966.9,274.4 954.2,267.1"/></clipPath>
<polyline points="954.2,270.6 966.9,263.3 979.6,270.6" fill="none" stroke="#4aa75a" stroke-width="0.5" clip-path="url(#hcB1)"/>
<clipPath id="hcB2"><polygon points="966.9,259.8 979.6,267.1 966.9,274.4 954.2,267.1"/></clipPath>
<polyline points="954.2,274.0 966.9,266.7 979.6,274.0" fill="none" stroke="#4aa75a" stroke-width="0.5" clip-path="url(#hcB2)"/>
<clipPath id="hcB3"><polygon points="966.9,259.8 979.6,267.1 966.9,274.4 954.2,267.1"/></clipPath>
<polyline points="954.2,277.5 966.9,270.2 979.6,277.5" fill="none" stroke="#4aa75a" stroke-width="0.5" clip-path="url(#hcB3)"/>
<polygon points="966.9,259.8 979.6,267.1 966.9,274.4 954.2,267.1" fill="none" stroke="#56b565" stroke-width="0.5" stroke-linejoin="round" />
<polygon points="1019.8,282.5 1057.7,304.4 1057.7,307.3 1019.8,285.4" fill="#e2e2e2" stroke="#aaa" stroke-width="0.4" stroke-linejoin="round" />
<polygon points="1057.7,304.4 1095.6,282.5 1095.6,285.4 1057.7,307.3" fill="#bdbdbd" stroke="#aaa" stroke-width="0.4" stroke-linejoin="round" />
<polygon points="1057.7,260.6 1095.6,282.5 1057.7,304.4 1019.8,282.5" fill="#ddd" stroke="#aaa" stroke-width="0.4" stroke-linejoin="round" />
<polygon points="1019.8,267.1 1057.7,289.0 1057.7,304.4 1019.8,282.5" fill="#8adb8d" stroke="#56b565" stroke-width="0.5" stroke-linejoin="round" />
<polygon points="1057.7,289.0 1095.6,267.1 1095.6,282.5 1057.7,304.4" fill="#7fd184" stroke="#56b565" stroke-width="0.5" stroke-linejoin="round" />
<polyline points="1019.8,279.4 1057.7,301.3 1095.6,279.4" fill="none" stroke="#56b565" stroke-width="0.5" />
<polyline points="1019.8,276.4 1057.7,298.2 1095.6,276.4" fill="none" stroke="#56b565" stroke-width="0.5" />
<polyline points="1019.8,273.3 1057.7,295.2 1095.6,273.3" fill="none" stroke="#56b565" stroke-width="0.5" />
<polyline points="1019.8,270.2 1057.7,292.1 1095.6,270.2" fill="none" stroke="#56b565" stroke-width="0.5" />
<polygon points="1057.7,245.2 1095.6,267.1 1057.7,289.0 1019.8,267.1" fill="#93e392" stroke="#56b565" stroke-width="0.5" stroke-linejoin="round" />
<polygon points="1061.0,259.8 1048.4,267.1 1061.0,274.4" fill="#5fbb6c" stroke="none" stroke-width="0.6" stroke-linejoin="round" />
<polygon points="1061.0,259.8 1073.7,267.1 1061.0,274.4" fill="#74cb7d" stroke="none" stroke-width="0.6" stroke-linejoin="round" />
<clipPath id="hcC1"><polygon points="1061.0,259.8 1073.7,267.1 1061.0,274.4 1048.4,267.1"/></clipPath>
<polyline points="1048.4,270.6 1061.0,263.3 1073.7,270.6" fill="none" stroke="#4aa75a" stroke-width="0.5" clip-path="url(#hcC1)"/>
<clipPath id="hcC2"><polygon points="1061.0,259.8 1073.7,267.1 1061.0,274.4 1048.4,267.1"/></clipPath>
<polyline points="1048.4,274.0 1061.0,266.7 1073.7,274.0" fill="none" stroke="#4aa75a" stroke-width="0.5" clip-path="url(#hcC2)"/>
<clipPath id="hcC3"><polygon points="1061.0,259.8 1073.7,267.1 1061.0,274.4 1048.4,267.1"/></clipPath>
<polyline points="1048.4,277.5 1061.0,270.2 1073.7,277.5" fill="none" stroke="#4aa75a" stroke-width="0.5" clip-path="url(#hcC3)"/>
<polygon points="1061.0,259.8 1073.7,267.1 1061.0,274.4 1048.4,267.1" fill="none" stroke="#56b565" stroke-width="0.5" stroke-linejoin="round" />
<rect x="890.4" y="136.6" width="18.0" height="9.0" fill="#14b04c"/>
<text x="914.6" y="144.8" font-size="11.6" fill="#444"  stroke="#fff" stroke-width="0.15">Inpatient</text>
<rect x="890.4" y="156.4" width="18.0" height="9.0" fill="#f0e840"/>
<text x="914.6" y="165.0" font-size="11.6" fill="#444"  stroke="#fff" stroke-width="0.15">Outpatient</text>
<rect x="890.4" y="175.8" width="18.0" height="8.6" fill="#0b2f8f"/>
<text x="914.6" y="184.6" font-size="11.6" fill="#444"  stroke="#fff" stroke-width="0.15">MedTech</text>
<polygon points="664.5,180.8 798.7,258.5 798.7,267.2 636.4,362.8 483.0,348.7 494.5,287.3 505.5,281.6" fill="#fff" stroke="#9a9a9a" stroke-width="0.6" stroke-linejoin="round" />
<polygon points="798.7,258.5 798.7,267.2 771.8,282.5 771.8,274.1" fill="#c8c8c8" stroke="#9a9a9a" stroke-width="0.5" stroke-linejoin="round" />
<polygon points="771.8,274.1 771.8,282.5 636.4,362.8 642.0,354.3" fill="#cfcfcf" stroke="none" stroke-width="0.6" stroke-linejoin="round" />
<polygon points="495.0,287.5 503.8,282.5 529.9,295.4 614.7,344.3 636.4,362.8 483.0,349.7" fill="#2a44a0" stroke="none" stroke-width="0.6" stroke-linejoin="round" />
<polygon points="664.5,180.8 798.7,258.5 771.8,274.1 637.2,196.4" fill="#5cb82e" stroke="none" stroke-width="0.6" stroke-linejoin="round" />
<polygon points="771.8,274.1 798.7,258.5 798.7,267.2 771.8,282.5" fill="#c8c8c8" stroke="#9a9a9a" stroke-width="0.4" stroke-linejoin="round" />
<polyline points="771.8,274.1 798.7,258.5" fill="none" stroke="#8fd26a" stroke-width="0.5" />
<polygon points="593.1,228.5 610.5,238.6 567.3,263.6 549.8,253.5" fill="#f3ea3a" stroke="none" stroke-width="0.6" stroke-linejoin="round" />
<polygon points="529.9,286.1 614.7,335.1 614.7,344.3 529.9,290.6" fill="#f4f4f4" stroke="#9a9a9a" stroke-width="0.5" stroke-linejoin="round" />
<polygon points="614.7,335.1 746.1,259.3 721.1,274.6 614.7,344.3" fill="#c4c4c4" stroke="#9a9a9a" stroke-width="0.4" stroke-linejoin="round" />
<polygon points="661.7,315.7 699.5,314.9 734.4,294.8 707.0,284.7" fill="#c2c2c2" stroke="none" stroke-width="0.6" stroke-linejoin="round" />
<polygon points="661.9,313.5 697.7,292.9 722.6,307.3 686.9,327.9" fill="#f3ea3a" stroke="none" stroke-width="0.6" stroke-linejoin="round" />
<polygon points="664.0,312.3 697.7,292.9 716.5,303.8 703.7,311.2 672.9,314.6" fill="#b7a928" stroke="none" stroke-width="0.6" stroke-linejoin="round" />
<polygon points="661.2,210.3 746.1,259.3 614.7,335.1 529.9,286.1" fill="#5cb82e" stroke="none" stroke-width="0.6" stroke-linejoin="round" />
<polygon points="661.2,210.3 746.1,259.3 771.8,274.1 637.2,196.4" fill="#5cb82e" stroke="none" stroke-width="0.6" stroke-linejoin="round" />
<polygon points="623.4,232.1 661.2,254.0 692.4,252.8 730.2,230.9 692.4,209.1 661.2,210.3" fill="#14a43c" stroke="none" stroke-width="0.6" stroke-linejoin="round" />
<polygon points="529.9,286.1 567.7,308.0 598.8,306.8 636.7,284.9 598.8,263.1 567.7,264.3" fill="#14a43c" stroke="none" stroke-width="0.6" stroke-linejoin="round" />
<polygon points="614.7,280.9 623.8,286.1 661.7,264.3 652.5,259.0" fill="#14a43c" stroke="none" stroke-width="0.6" stroke-linejoin="round" />
<polygon points="618.9,251.5 626.0,255.6 622.1,257.8 615.1,253.7" fill="#fff" stroke="none" stroke-width="0.5" stroke-linejoin="round" />
<polygon points="618.9,251.5 615.1,253.7 620.5,256.8" fill="#b5b5b5" stroke="none" stroke-width="0.6" stroke-linejoin="round" />
<polygon points="612.9,255.0 620.0,259.0 616.1,261.3 609.1,257.2" fill="#fff" stroke="none" stroke-width="0.5" stroke-linejoin="round" />
<polygon points="612.9,255.0 609.1,257.2 614.5,260.3" fill="#b5b5b5" stroke="none" stroke-width="0.6" stroke-linejoin="round" />
<polygon points="623.7,310.1 630.8,314.1 627.0,316.4 619.9,312.3" fill="#fff" stroke="none" stroke-width="0.5" stroke-linejoin="round" />
<polygon points="623.7,310.1 619.9,312.3 625.3,315.4" fill="#b5b5b5" stroke="none" stroke-width="0.6" stroke-linejoin="round" />
<polygon points="617.7,313.5 624.8,317.6 621.0,319.8 613.9,315.7" fill="#fff" stroke="none" stroke-width="0.5" stroke-linejoin="round" />
<polygon points="617.7,313.5 613.9,315.7 619.3,318.9" fill="#b5b5b5" stroke="none" stroke-width="0.6" stroke-linejoin="round" />
<polygon points="713.9,257.5 721.0,261.6 717.2,263.8 710.1,259.7" fill="#fff" stroke="none" stroke-width="0.5" stroke-linejoin="round" />
<polygon points="713.9,257.5 710.1,259.7 715.5,262.8" fill="#b5b5b5" stroke="none" stroke-width="0.6" stroke-linejoin="round" />
<polygon points="707.9,261.0 715.0,265.0 711.2,267.3 704.1,263.2" fill="#fff" stroke="none" stroke-width="0.5" stroke-linejoin="round" />
<polygon points="707.9,261.0 704.1,263.2 709.5,266.3" fill="#b5b5b5" stroke="none" stroke-width="0.6" stroke-linejoin="round" />
<polygon points="685.3,241.4 692.4,245.5 688.6,247.7 681.5,243.6" fill="#fff" stroke="none" stroke-width="0.5" stroke-linejoin="round" />
<polygon points="685.3,241.4 681.5,243.6 686.9,246.7" fill="#b5b5b5" stroke="none" stroke-width="0.6" stroke-linejoin="round" />
<polygon points="679.3,244.8 686.4,248.9 682.6,251.1 675.5,247.0" fill="#fff" stroke="none" stroke-width="0.5" stroke-linejoin="round" />
<polygon points="679.3,244.8 675.5,247.0 680.9,250.2" fill="#b5b5b5" stroke="none" stroke-width="0.6" stroke-linejoin="round" />
<polygon points="594.4,293.4 601.5,297.4 597.7,299.7 590.6,295.6" fill="#fff" stroke="none" stroke-width="0.5" stroke-linejoin="round" />
<polygon points="594.4,293.4 590.6,295.6 596.0,298.7" fill="#b5b5b5" stroke="none" stroke-width="0.6" stroke-linejoin="round" />
<polygon points="588.5,296.8 595.5,300.9 591.7,303.1 584.6,299.0" fill="#fff" stroke="none" stroke-width="0.5" stroke-linejoin="round" />
<polygon points="588.5,296.8 584.6,299.0 590.0,302.1" fill="#b5b5b5" stroke="none" stroke-width="0.6" stroke-linejoin="round" />
<polygon points="615.4,281.9 622.5,286.0 618.6,288.2 611.6,284.1" fill="#e8e8e8" stroke="none" stroke-width="0.5" stroke-linejoin="round" />
<polygon points="615.4,281.9 611.6,284.1 617.0,287.3" fill="#b5b5b5" stroke="none" stroke-width="0.6" stroke-linejoin="round" />
<polygon points="623.4,214.9 661.2,236.7 661.2,254.9 657.9,253.0 656.3,254.0 649.6,254.0 644.2,252.8 635.6,247.8 628.9,237.2 623.4,233.1" fill="#f3f3f3" stroke="#b0b0b0" stroke-width="0.6" stroke-linejoin="round" />
<polygon points="621.0,240.8 628.7,237.1 630.5,244.4" fill="#d0d0d0" stroke="none" stroke-width="0.6" stroke-linejoin="round" />
<polygon points="628.9,237.2 635.6,247.8 632.6,245.1" fill="#a8a8a8" stroke="none" stroke-width="0.6" stroke-linejoin="round" />
<polygon points="661.2,236.7 699.1,214.9 699.1,233.1 661.2,254.9" fill="#c6c6c6" stroke="#b0b0b0" stroke-width="0.6" stroke-linejoin="round" />
<polygon points="661.2,193.0 699.1,214.9 661.2,236.7 623.4,214.9" fill="#fff" stroke="#b0b0b0" stroke-width="0.6" stroke-linejoin="round" />
<polygon points="666.2,207.6 653.6,214.9 666.2,222.2" fill="#b0b0b0" stroke="none" stroke-width="0.6" stroke-linejoin="round" />
<polygon points="666.2,207.6 678.9,214.9 666.2,222.2" fill="#fff" stroke="none" stroke-width="0.6" stroke-linejoin="round" />
<polygon points="666.2,207.6 669.8,219.5 666.2,222.2" fill="#b0b0b0" stroke="none" stroke-width="0.6" stroke-linejoin="round" />
<polygon points="666.2,207.6 678.9,214.9 666.2,222.2 653.6,214.9" fill="none" stroke="#b0b0b0" stroke-width="0.6" stroke-linejoin="round" />
<polyline points="666.2,207.6 666.2,222.2" fill="none" stroke="#b0b0b0" stroke-width="0.5" />
<polygon points="529.9,268.9 567.7,290.7 567.7,308.9 529.9,290.6" fill="#f3f3f3" stroke="#b0b0b0" stroke-width="0.6" stroke-linejoin="round" />
<polygon points="567.7,290.7 605.5,268.9 605.5,287.1 567.7,308.9" fill="#c6c6c6" stroke="#b0b0b0" stroke-width="0.6" stroke-linejoin="round" />
<polygon points="567.7,247.0 605.5,268.9 567.7,290.7 529.9,268.9" fill="#fff" stroke="#b0b0b0" stroke-width="0.6" stroke-linejoin="round" />
<polygon points="572.7,261.6 560.1,268.9 572.7,276.2" fill="#b0b0b0" stroke="none" stroke-width="0.6" stroke-linejoin="round" />
<polygon points="572.7,261.6 585.3,268.9 572.7,276.2" fill="#fff" stroke="none" stroke-width="0.6" stroke-linejoin="round" />
<polygon points="572.7,261.6 576.2,273.5 572.7,276.2" fill="#b0b0b0" stroke="none" stroke-width="0.6" stroke-linejoin="round" />
<polygon points="572.7,261.6 585.3,268.9 572.7,276.2 560.1,268.9" fill="none" stroke="#b0b0b0" stroke-width="0.6" stroke-linejoin="round" />
<polyline points="572.7,261.6 572.7,276.2" fill="none" stroke="#b0b0b0" stroke-width="0.5" />
<polygon points="623.8,268.9 661.7,290.7 661.7,311.3 658.3,309.4 656.7,310.4 650.0,310.4 644.6,306.8 636.0,301.8 629.3,293.6 623.8,289.5" fill="#f3f3f3" stroke="#b0b0b0" stroke-width="0.6" stroke-linejoin="round" />
<polygon points="621.4,297.2 629.2,293.5 630.9,300.8" fill="#d0d0d0" stroke="none" stroke-width="0.6" stroke-linejoin="round" />
<polygon points="629.3,293.6 636.0,301.8 633.0,299.1" fill="#a8a8a8" stroke="none" stroke-width="0.6" stroke-linejoin="round" />
<polygon points="661.7,290.7 699.5,268.9 699.5,289.5 661.7,311.3" fill="#c6c6c6" stroke="#b0b0b0" stroke-width="0.6" stroke-linejoin="round" />
<polygon points="661.7,247.0 699.5,268.9 661.7,290.7 623.8,268.9" fill="#fff" stroke="#b0b0b0" stroke-width="0.6" stroke-linejoin="round" />
<polygon points="666.7,261.6 654.0,268.9 666.7,276.2" fill="#b0b0b0" stroke="none" stroke-width="0.6" stroke-linejoin="round" />
<polygon points="666.7,261.6 679.3,268.9 666.7,276.2" fill="#fff" stroke="none" stroke-width="0.6" stroke-linejoin="round" />
<polygon points="666.7,261.6 670.2,273.5 666.7,276.2" fill="#b0b0b0" stroke="none" stroke-width="0.6" stroke-linejoin="round" />
<polygon points="666.7,261.6 679.3,268.9 666.7,276.2 654.0,268.9" fill="none" stroke="#b0b0b0" stroke-width="0.6" stroke-linejoin="round" />
<polyline points="666.7,261.6 666.7,276.2" fill="none" stroke="#b0b0b0" stroke-width="0.5" />
<polygon points="540.0,333.4 558.8,323.3 572.0,321.2 553.7,333.0" fill="#233a8e" stroke="none" stroke-width="0.6" stroke-linejoin="round" />
<polygon points="516.5,346.2 527.3,339.9 538.4,339.5 527.3,346.0" fill="#233a8e" stroke="none" stroke-width="0.6" stroke-linejoin="round" />
<polygon points="501.2,305.5 540.0,324.8 540.0,333.4 501.2,314.1" fill="#ededed" stroke="#b0b0b0" stroke-width="0.5" stroke-linejoin="round" />
<polygon points="540.0,324.8 558.8,314.7 558.8,323.3 540.0,333.4" fill="#c9c9c9" stroke="#b0b0b0" stroke-width="0.5" stroke-linejoin="round" />
<polygon points="501.2,305.5 518.5,294.0 558.8,314.7 540.0,324.8" fill="#fff" stroke="#b0b0b0" stroke-width="0.5" stroke-linejoin="round" />
<polygon points="488.8,339.5 516.5,340.5 516.5,346.2 488.8,345.3" fill="#c9c9c9" stroke="#b0b0b0" stroke-width="0.5" stroke-linejoin="round" />
<polygon points="516.5,340.5 527.3,334.1 527.3,339.9 516.5,346.2" fill="#c9c9c9" stroke="#b0b0b0" stroke-width="0.5" stroke-linejoin="round" />
<polygon points="488.8,339.5 493.7,316.3 527.3,334.1 516.5,340.5" fill="#fff" stroke="#b0b0b0" stroke-width="0.5" stroke-linejoin="round" />
<line x1="668.9" y1="307.6" x2="673.1" y2="300.4" stroke="#6cc644" stroke-width="1.2"/>
<line x1="671.0" y1="308.7" x2="675.2" y2="301.6" stroke="#6cc644" stroke-width="1.2"/>
<line x1="673.2" y1="309.9" x2="677.4" y2="302.7" stroke="#6cc644" stroke-width="1.2"/>
<line x1="675.3" y1="311.0" x2="679.5" y2="303.9" stroke="#6cc644" stroke-width="1.2"/>
<line x1="677.5" y1="312.2" x2="681.7" y2="305.0" stroke="#6cc644" stroke-width="1.2"/>
<line x1="679.6" y1="313.3" x2="683.8" y2="306.2" stroke="#6cc644" stroke-width="1.2"/>
<line x1="681.8" y1="314.5" x2="686.0" y2="307.3" stroke="#6cc644" stroke-width="1.2"/>
<line x1="683.9" y1="315.6" x2="688.1" y2="308.5" stroke="#6cc644" stroke-width="1.2"/>
<line x1="686.1" y1="316.8" x2="690.3" y2="309.6" stroke="#6cc644" stroke-width="1.2"/>
<line x1="688.2" y1="317.9" x2="692.4" y2="310.8" stroke="#6cc644" stroke-width="1.2"/>
<line x1="690.4" y1="319.1" x2="694.6" y2="311.9" stroke="#6cc644" stroke-width="1.2"/>
<line x1="692.5" y1="320.2" x2="696.7" y2="313.1" stroke="#6cc644" stroke-width="1.2"/>
<line x1="694.7" y1="321.3" x2="698.9" y2="314.2" stroke="#6cc644" stroke-width="1.2"/>
<line x1="696.8" y1="322.5" x2="701.0" y2="315.4" stroke="#6cc644" stroke-width="1.2"/>
<line x1="699.0" y1="323.6" x2="703.2" y2="316.5" stroke="#6cc644" stroke-width="1.2"/>
<line x1="701.1" y1="324.8" x2="705.3" y2="317.7" stroke="#6cc644" stroke-width="1.2"/>
<line x1="703.3" y1="325.9" x2="707.5" y2="318.8" stroke="#6cc644" stroke-width="1.2"/>
<line x1="705.4" y1="327.1" x2="709.6" y2="319.9" stroke="#6cc644" stroke-width="1.2"/>
<line x1="707.6" y1="328.2" x2="711.8" y2="321.1" stroke="#6cc644" stroke-width="1.2"/>
<line x1="709.7" y1="329.4" x2="713.9" y2="322.2" stroke="#6cc644" stroke-width="1.2"/>
<line x1="711.9" y1="330.5" x2="716.1" y2="323.4" stroke="#6cc644" stroke-width="1.2"/>
<line x1="714.0" y1="331.7" x2="718.2" y2="324.5" stroke="#6cc644" stroke-width="1.2"/>
<line x1="716.2" y1="332.8" x2="720.4" y2="325.7" stroke="#6cc644" stroke-width="1.2"/>
<line x1="718.3" y1="334.0" x2="722.5" y2="326.8" stroke="#6cc644" stroke-width="1.2"/>
<line x1="720.5" y1="335.1" x2="724.7" y2="328.0" stroke="#6cc644" stroke-width="1.2"/>
<line x1="722.6" y1="336.3" x2="726.8" y2="329.1" stroke="#6cc644" stroke-width="1.2"/>
<line x1="724.8" y1="337.4" x2="729.0" y2="330.3" stroke="#6cc644" stroke-width="1.2"/>
<line x1="726.9" y1="338.6" x2="731.1" y2="331.4" stroke="#6cc644" stroke-width="1.2"/>
<line x1="627.4" y1="335.1" x2="631.6" y2="327.9" stroke="#e2de3c" stroke-width="1.2"/>
<line x1="629.5" y1="336.2" x2="633.7" y2="329.1" stroke="#e2de3c" stroke-width="1.2"/>
<line x1="631.7" y1="337.4" x2="635.9" y2="330.2" stroke="#e2de3c" stroke-width="1.2"/>
<line x1="633.8" y1="338.5" x2="638.0" y2="331.4" stroke="#e2de3c" stroke-width="1.2"/>
<line x1="636.0" y1="339.7" x2="640.2" y2="332.5" stroke="#e2de3c" stroke-width="1.2"/>
<line x1="638.1" y1="340.8" x2="642.3" y2="333.7" stroke="#e2de3c" stroke-width="1.2"/>
<line x1="640.3" y1="342.0" x2="644.5" y2="334.8" stroke="#e2de3c" stroke-width="1.2"/>
<line x1="642.4" y1="343.1" x2="646.6" y2="336.0" stroke="#e2de3c" stroke-width="1.2"/>
<line x1="644.6" y1="344.3" x2="648.8" y2="337.1" stroke="#e2de3c" stroke-width="1.2"/>
<line x1="646.7" y1="345.4" x2="650.9" y2="338.3" stroke="#e2de3c" stroke-width="1.2"/>
<line x1="648.9" y1="346.6" x2="653.1" y2="339.4" stroke="#e2de3c" stroke-width="1.2"/>
<line x1="651.0" y1="347.7" x2="655.2" y2="340.6" stroke="#e2de3c" stroke-width="1.2"/>
<line x1="653.2" y1="348.8" x2="657.4" y2="341.7" stroke="#e2de3c" stroke-width="1.2"/>
<line x1="655.3" y1="350.0" x2="659.5" y2="342.9" stroke="#e2de3c" stroke-width="1.2"/>
<line x1="657.5" y1="351.1" x2="661.7" y2="344.0" stroke="#e2de3c" stroke-width="1.2"/>
<line x1="659.6" y1="352.3" x2="663.8" y2="345.2" stroke="#e2de3c" stroke-width="1.2"/>
<line x1="661.8" y1="353.4" x2="666.0" y2="346.3" stroke="#e2de3c" stroke-width="1.2"/>
<line x1="663.9" y1="354.6" x2="668.1" y2="347.4" stroke="#e2de3c" stroke-width="1.2"/>
<line x1="666.1" y1="355.7" x2="670.3" y2="348.6" stroke="#e2de3c" stroke-width="1.2"/>
<line x1="668.2" y1="356.9" x2="672.4" y2="349.7" stroke="#e2de3c" stroke-width="1.2"/>
<line x1="670.4" y1="358.0" x2="674.6" y2="350.9" stroke="#e2de3c" stroke-width="1.2"/>
<line x1="672.5" y1="359.2" x2="676.7" y2="352.0" stroke="#e2de3c" stroke-width="1.2"/>
<line x1="674.7" y1="360.3" x2="678.9" y2="353.2" stroke="#e2de3c" stroke-width="1.2"/>
<line x1="676.8" y1="361.5" x2="681.0" y2="354.3" stroke="#e2de3c" stroke-width="1.2"/>
<line x1="679.0" y1="362.6" x2="683.2" y2="355.5" stroke="#e2de3c" stroke-width="1.2"/>
<line x1="681.1" y1="363.8" x2="685.3" y2="356.6" stroke="#e2de3c" stroke-width="1.2"/>
<line x1="683.3" y1="364.9" x2="687.5" y2="357.8" stroke="#e2de3c" stroke-width="1.2"/>
<line x1="685.4" y1="366.1" x2="689.6" y2="358.9" stroke="#e2de3c" stroke-width="1.2"/>
<polyline points="562.5,228.5 601.5,251.5" fill="none" stroke="#e0431f" stroke-width="0.9" />
<polyline points="592.5,251.2 601.5,251.5 596.9,243.8" fill="none" stroke="#e0431f" stroke-width="0.9" />
<polyline points="762.5,220.0 727.5,244.5" fill="none" stroke="#222" stroke-width="0.9" />
<polyline points="732.4,235.8 727.5,244.5 737.4,242.9" fill="none" stroke="#222" stroke-width="0.9" />
<polyline points="741.5,332.5 703.5,310.0" fill="none" stroke="#222" stroke-width="0.9" />
<polyline points="713.5,310.8 703.5,310.0 709.0,318.3" fill="none" stroke="#222" stroke-width="0.9" />
<text x="500.3" y="223.5" font-size="17" fill="#262626"  stroke="#fff" stroke-width="0.32">Emergency</text>
<text x="738.0" y="216.3" font-size="17" fill="#262626"  stroke="#fff" stroke-width="0.32">Pedestrian</text>
<text x="737.6" y="327.3" font-size="17" fill="#262626"  stroke="#fff" stroke-width="0.32">Outpatient</text>
<text x="750.6" y="347.5" font-size="17" fill="#262626"  stroke="#fff" stroke-width="0.32">Entrance</text>
<rect x="481.7" y="402.0" width="12.6" height="8.8" fill="#1aa84a"/>
<text x="499.6" y="412.0" font-size="11.9" fill="#5a5a5a"  stroke="#fff" stroke-width="0.25">High Ground（537.75）</text>
<rect x="481.7" y="416.4" width="12.6" height="8.8" fill="#eee23a"/>
<text x="499.6" y="426.4" font-size="11.9" fill="#5a5a5a"  stroke="#fff" stroke-width="0.25">Mid Ground（531.45）</text>
<rect x="481.7" y="431.2" width="12.6" height="8.4" fill="#16348e"/>
<text x="499.6" y="440.9" font-size="11.9" fill="#5a5a5a"  stroke="#fff" stroke-width="0.25">Low Ground（526.05）</text>
<polygon points="275.6,193.5 415.4,274.5 415.4,283.5 242.0,383.4 86.6,368.4 98.6,304.5 110.0,298.5" fill="#fff" stroke="#8c8c8c" stroke-width="0.6" stroke-linejoin="round" />
<polygon points="360.2,303.1 380.6,287.6 410.8,271.6 415.8,274.1 415.8,283.5 385.9,299.5 363.7,305.4" fill="#bdbdbd" stroke="#8c8c8c" stroke-width="0.4" stroke-linejoin="round" />
<polyline points="385.9,290.6 385.9,299.5" fill="none" stroke="#8c8c8c" stroke-width="0.4" />
<polyline points="380.6,287.6 385.9,290.6 415.8,274.1" fill="none" stroke="#8c8c8c" stroke-width="0.4" />
<polygon points="360.2,303.1 363.7,305.4 385.9,299.5 251.8,378.3 249.8,377.4" fill="#bdbdbd" stroke="none" stroke-width="0.6" stroke-linejoin="round" />
<polyline points="385.9,299.5 251.8,378.3" fill="none" stroke="#8c8c8c" stroke-width="0.4" />
<polyline points="360.6,275.2 380.6,287.6" fill="none" stroke="#8c8c8c" stroke-width="0.4" />
<polyline points="272.6,331.6 297.1,346.1" fill="none" stroke="#8c8c8c" stroke-width="0.4" />
<polyline points="316.6,310.2 337.1,322.6" fill="none" stroke="#8c8c8c" stroke-width="0.4" />
<polyline points="223.8,363.9 251.8,378.3" fill="none" stroke="#8c8c8c" stroke-width="0.4" />
<polyline points="247.2,209.8 385.9,290.6" fill="none" stroke="#8c8c8c" stroke-width="0.45" />
<polyline points="110.0,298.5 135.4,312.9" fill="none" stroke="#8c8c8c" stroke-width="0.45" />
<polyline points="288.3,201.0 112.9,302.2" fill="none" stroke="#8c8c8c" stroke-width="0.45" />
<polyline points="149.7,266.0 174.8,280.5" fill="none" stroke="#8c8c8c" stroke-width="0.45" />
<polyline points="198.6,237.8 223.8,252.2" fill="none" stroke="#8c8c8c" stroke-width="0.45" />
<polygon points="135.4,303.2 223.8,354.2 223.8,363.9 135.4,312.9" fill="#fff" stroke="#8c8c8c" stroke-width="0.5" stroke-linejoin="round" />
<polygon points="223.8,354.2 360.6,275.2 223.8,363.9" fill="#c2c2c2" stroke="#8c8c8c" stroke-width="0.4" stroke-linejoin="round" />
<polygon points="223.8,363.9 232.4,365.9 274.0,331.2" fill="#cfcfcf" stroke="none" stroke-width="0.6" stroke-linejoin="round" />
<polygon points="272.2,224.2 360.6,275.2 223.8,354.2 135.4,303.2" fill="#fff" stroke="#8c8c8c" stroke-width="0.6" stroke-linejoin="round" />
<polygon points="281.3,234.4 328.3,261.5 324.6,263.6 277.7,236.5" fill="#f2ea3a" stroke="none" stroke-width="0.6" stroke-linejoin="round" />
<polygon points="324.6,259.4 328.3,261.5 203.8,333.4 200.2,331.2" fill="#f2ea3a" stroke="none" stroke-width="0.6" stroke-linejoin="round" />
<polygon points="161.0,304.4 207.5,331.2 203.8,333.4 157.3,306.5" fill="#f2ea3a" stroke="none" stroke-width="0.6" stroke-linejoin="round" />
<polyline points="281.3,234.4 328.3,261.5 203.8,333.4 157.3,306.5" fill="none" stroke="#a8a12a" stroke-width="0.4" />
<polyline points="277.7,236.5 321.0,261.5 203.8,329.1 161.0,304.4" fill="none" stroke="#a8a12a" stroke-width="0.4" />
<polygon points="237.9,251.1 260.4,264.1 252.9,268.4 230.4,255.4" fill="#fff" stroke="#8c8c8c" stroke-width="0.45" stroke-linejoin="round" />
<polygon points="237.9,251.1 230.4,255.4 239.9,260.9" fill="#a9a9a9" stroke="#8c8c8c" stroke-width="0.3" stroke-linejoin="round" />
<polygon points="237.9,251.1 239.9,260.9 243.4,262.9" fill="#d5d5d5" stroke="none" stroke-width="0.6" stroke-linejoin="round" />
<polygon points="188.5,279.6 211.0,292.6 203.6,296.9 181.1,283.9" fill="#fff" stroke="#8c8c8c" stroke-width="0.45" stroke-linejoin="round" />
<polygon points="188.5,279.6 181.1,283.9 190.6,289.4" fill="#a9a9a9" stroke="#8c8c8c" stroke-width="0.3" stroke-linejoin="round" />
<polygon points="188.5,279.6 190.6,289.4 194.0,291.4" fill="#d5d5d5" stroke="none" stroke-width="0.6" stroke-linejoin="round" />
<polygon points="292.0,281.9 314.5,294.9 307.1,299.1 284.5,286.1" fill="#fff" stroke="#8c8c8c" stroke-width="0.45" stroke-linejoin="round" />
<polygon points="292.0,281.9 284.5,286.1 294.1,291.6" fill="#a9a9a9" stroke="#8c8c8c" stroke-width="0.3" stroke-linejoin="round" />
<polygon points="292.0,281.9 294.1,291.6 297.5,293.6" fill="#d5d5d5" stroke="none" stroke-width="0.6" stroke-linejoin="round" />
<polygon points="243.1,310.1 265.6,323.1 258.1,327.4 235.6,314.4" fill="#fff" stroke="#8c8c8c" stroke-width="0.45" stroke-linejoin="round" />
<polygon points="243.1,310.1 235.6,314.4 245.1,319.9" fill="#a9a9a9" stroke="#8c8c8c" stroke-width="0.3" stroke-linejoin="round" />
<polygon points="243.1,310.1 245.1,319.9 248.6,321.9" fill="#d5d5d5" stroke="none" stroke-width="0.6" stroke-linejoin="round" />
<polygon points="296.1,275.9 299.7,278.0 226.8,320.1 223.1,318.0" fill="#f2ea3a" stroke="none" stroke-width="0.6" stroke-linejoin="round" />
<polygon points="277.4,239.4 264.3,247.0 277.4,254.6" fill="#b4b4b4" stroke="none" stroke-width="0.6" stroke-linejoin="round" />
<polygon points="277.4,239.4 290.6,247.0 277.4,254.6" fill="#fff" stroke="none" stroke-width="0.6" stroke-linejoin="round" />
<polygon points="277.4,239.4 290.6,247.0 277.4,254.6 264.3,247.0" fill="none" stroke="#8c8c8c" stroke-width="0.6" stroke-linejoin="round" />
<polyline points="277.4,239.4 277.4,254.6" fill="none" stroke="#8c8c8c" stroke-width="0.5" />
<polygon points="180.0,295.6 166.9,303.2 180.0,310.9" fill="#b4b4b4" stroke="none" stroke-width="0.6" stroke-linejoin="round" />
<polygon points="180.0,295.6 193.2,303.2 180.0,310.9" fill="#fff" stroke="none" stroke-width="0.6" stroke-linejoin="round" />
<polygon points="180.0,295.6 193.2,303.2 180.0,310.9 166.9,303.2" fill="none" stroke="#8c8c8c" stroke-width="0.6" stroke-linejoin="round" />
<polyline points="180.0,295.6 180.0,310.9" fill="none" stroke="#8c8c8c" stroke-width="0.5" />
<polygon points="277.9,295.6 264.7,303.2 277.9,310.9" fill="#b4b4b4" stroke="none" stroke-width="0.6" stroke-linejoin="round" />
<polygon points="277.9,295.6 291.0,303.2 277.9,310.9" fill="#fff" stroke="none" stroke-width="0.6" stroke-linejoin="round" />
<polygon points="277.9,295.6 291.0,303.2 277.9,310.9 264.7,303.2" fill="none" stroke="#8c8c8c" stroke-width="0.6" stroke-linejoin="round" />
<polyline points="277.9,295.6 277.9,310.9" fill="none" stroke="#8c8c8c" stroke-width="0.5" />
<polygon points="224.7,268.6 232.1,272.9 228.1,275.2 220.8,270.9" fill="#fff" stroke="#8c8c8c" stroke-width="0.5" stroke-linejoin="round" />
<polygon points="224.7,268.6 220.8,270.9 226.4,274.2" fill="#b0b0b0" stroke="none" stroke-width="0.6" stroke-linejoin="round" />
<polygon points="218.5,272.2 225.9,276.5 221.9,278.8 214.5,274.5" fill="#fff" stroke="#8c8c8c" stroke-width="0.5" stroke-linejoin="round" />
<polygon points="218.5,272.2 214.5,274.5 220.2,277.8" fill="#b0b0b0" stroke="none" stroke-width="0.6" stroke-linejoin="round" />
<polygon points="297.3,257.3 304.7,261.6 300.7,263.9 293.3,259.6" fill="#fff" stroke="#8c8c8c" stroke-width="0.5" stroke-linejoin="round" />
<polygon points="297.3,257.3 293.3,259.6 299.0,262.9" fill="#b0b0b0" stroke="none" stroke-width="0.6" stroke-linejoin="round" />
<polygon points="291.1,260.9 298.4,265.2 294.5,267.5 287.1,263.2" fill="#fff" stroke="#8c8c8c" stroke-width="0.5" stroke-linejoin="round" />
<polygon points="291.1,260.9 287.1,263.2 292.7,266.5" fill="#b0b0b0" stroke="none" stroke-width="0.6" stroke-linejoin="round" />
<polygon points="327.5,273.3 334.9,277.5 330.9,279.8 323.6,275.6" fill="#fff" stroke="#8c8c8c" stroke-width="0.5" stroke-linejoin="round" />
<polygon points="327.5,273.3 323.6,275.6 329.2,278.8" fill="#b0b0b0" stroke="none" stroke-width="0.6" stroke-linejoin="round" />
<polygon points="321.3,276.9 328.7,281.1 324.7,283.4 317.3,279.2" fill="#fff" stroke="#8c8c8c" stroke-width="0.5" stroke-linejoin="round" />
<polygon points="321.3,276.9 317.3,279.2 323.0,282.4" fill="#b0b0b0" stroke="none" stroke-width="0.6" stroke-linejoin="round" />
<polygon points="252.1,282.8 259.5,287.1 255.5,289.4 248.1,285.1" fill="#fff" stroke="#8c8c8c" stroke-width="0.5" stroke-linejoin="round" />
<polygon points="252.1,282.8 248.1,285.1 253.8,288.4" fill="#b0b0b0" stroke="none" stroke-width="0.6" stroke-linejoin="round" />
<polygon points="245.9,286.4 253.2,290.7 249.3,293.0 241.9,288.7" fill="#fff" stroke="#8c8c8c" stroke-width="0.5" stroke-linejoin="round" />
<polygon points="245.9,286.4 241.9,288.7 247.5,292.0" fill="#b0b0b0" stroke="none" stroke-width="0.6" stroke-linejoin="round" />
<polygon points="203.1,310.1 210.5,314.4 206.5,316.7 199.1,312.4" fill="#fff" stroke="#8c8c8c" stroke-width="0.5" stroke-linejoin="round" />
<polygon points="203.1,310.1 199.1,312.4 204.7,315.7" fill="#b0b0b0" stroke="none" stroke-width="0.6" stroke-linejoin="round" />
<polygon points="196.9,313.7 204.2,318.0 200.2,320.3 192.9,316.0" fill="#fff" stroke="#8c8c8c" stroke-width="0.5" stroke-linejoin="round" />
<polygon points="196.9,313.7 192.9,316.0 198.5,319.3" fill="#b0b0b0" stroke="none" stroke-width="0.6" stroke-linejoin="round" />
<polygon points="233.2,328.0 240.6,332.3 236.6,334.6 229.3,330.3" fill="#fff" stroke="#8c8c8c" stroke-width="0.5" stroke-linejoin="round" />
<polygon points="233.2,328.0 229.3,330.3 234.9,333.6" fill="#b0b0b0" stroke="none" stroke-width="0.6" stroke-linejoin="round" />
<polygon points="227.0,331.6 234.4,335.9 230.4,338.2 223.0,333.9" fill="#fff" stroke="#8c8c8c" stroke-width="0.5" stroke-linejoin="round" />
<polygon points="227.0,331.6 223.0,333.9 228.6,337.2" fill="#b0b0b0" stroke="none" stroke-width="0.6" stroke-linejoin="round" />
<polygon points="271.5,271.4 278.9,275.7 274.9,278.0 267.5,273.7" fill="#fff" stroke="#8c8c8c" stroke-width="0.5" stroke-linejoin="round" />
<polygon points="271.5,271.4 267.5,273.7 273.2,277.0" fill="#b0b0b0" stroke="none" stroke-width="0.6" stroke-linejoin="round" />
<polygon points="222.6,298.7 229.9,302.9 226.0,305.2 218.6,301.0" fill="#fff" stroke="#8c8c8c" stroke-width="0.5" stroke-linejoin="round" />
<polygon points="222.6,298.7 218.6,301.0 224.2,304.2" fill="#b0b0b0" stroke="none" stroke-width="0.6" stroke-linejoin="round" />
<polygon points="292.6,246.8 296.4,249.0 183.0,314.4 179.2,312.2" fill="#23409a" stroke="none" stroke-width="0.6" stroke-linejoin="round" />
<polygon points="248.9,272.1 273.0,286.0 269.2,288.2 245.1,274.2" fill="#23409a" stroke="none" stroke-width="0.6" stroke-linejoin="round" />
<polygon points="146.0,352.5 165.5,342.0 179.2,339.8 160.2,352.1" fill="#bebebe" stroke="none" stroke-width="0.6" stroke-linejoin="round" />
<polygon points="121.4,365.9 132.8,359.2 144.2,358.9 132.8,365.6" fill="#bebebe" stroke="none" stroke-width="0.6" stroke-linejoin="round" />
<polygon points="105.5,323.4 146.0,343.5 146.0,352.5 105.5,332.4" fill="#fff" stroke="#8c8c8c" stroke-width="0.5" stroke-linejoin="round" />
<polygon points="146.0,343.5 165.5,333.0 165.5,342.0 146.0,352.5" fill="#b8b8b8" stroke="#8c8c8c" stroke-width="0.5" stroke-linejoin="round" />
<polygon points="105.5,323.4 123.5,311.4 165.5,333.0 146.0,343.5" fill="#fff" stroke="#8c8c8c" stroke-width="0.5" stroke-linejoin="round" />
<polygon points="92.6,358.9 121.4,359.9 121.4,365.9 92.6,364.9" fill="#b8b8b8" stroke="#8c8c8c" stroke-width="0.5" stroke-linejoin="round" />
<polygon points="121.4,359.9 132.8,353.2 132.8,359.2 121.4,365.9" fill="#b8b8b8" stroke="#8c8c8c" stroke-width="0.5" stroke-linejoin="round" />
<polygon points="92.6,358.9 97.8,334.6 132.8,353.2 121.4,359.9" fill="#fff" stroke="#8c8c8c" stroke-width="0.5" stroke-linejoin="round" />
<line x1="135.4" y1="160.2" x2="135.4" y2="303.2" stroke="#9a9a9a" stroke-width="0.5" stroke-dasharray="1.2 1.2"/>
<line x1="223.8" y1="211.2" x2="223.8" y2="354.2" stroke="#9a9a9a" stroke-width="0.5" stroke-dasharray="1.2 1.2"/>
<line x1="360.6" y1="132.2" x2="360.6" y2="275.2" stroke="#9a9a9a" stroke-width="0.5" stroke-dasharray="1.2 1.2"/>
<polygon points="272.2,81.2 360.6,132.2 223.8,211.2 135.4,160.2" fill="#fff" stroke="#8c8c8c" stroke-width="0.6" stroke-linejoin="round" />
<polyline points="311.7,104.0 174.8,183.0" fill="none" stroke="#8c8c8c" stroke-width="0.45" />
<polyline points="321.2,109.5 184.3,188.5" fill="none" stroke="#8c8c8c" stroke-width="0.45" />
<polyline points="232.8,104.0 321.2,155.0" fill="none" stroke="#8c8c8c" stroke-width="0.45" />
<polyline points="223.8,109.2 312.1,160.2" fill="none" stroke="#8c8c8c" stroke-width="0.45" />
<polyline points="184.3,132.0 272.7,183.0" fill="none" stroke="#8c8c8c" stroke-width="0.45" />
<polyline points="174.8,137.5 263.2,188.5" fill="none" stroke="#8c8c8c" stroke-width="0.45" />
<polygon points="232.8,104.0 272.2,126.8 304.7,125.5 326.8,112.7 272.2,81.2 272.2,81.2" fill="#b7b7b7" stroke="none" stroke-width="0.6" stroke-linejoin="round" />
<polygon points="135.4,160.2 174.8,183.0 207.2,181.7 246.7,159.0 207.2,136.2 174.8,137.5" fill="#b7b7b7" stroke="none" stroke-width="0.6" stroke-linejoin="round" />
<polygon points="312.1,160.2 325.9,152.2 319.0,148.2 305.2,156.2" fill="#b7b7b7" stroke="none" stroke-width="0.6" stroke-linejoin="round" />
<polygon points="228.1,124.2 235.5,128.4 231.5,130.7 224.1,126.5" fill="#fff" stroke="#8c8c8c" stroke-width="0.5" stroke-linejoin="round" />
<polygon points="221.9,127.8 229.3,132.0 225.3,134.3 217.9,130.1" fill="#fff" stroke="#8c8c8c" stroke-width="0.5" stroke-linejoin="round" />
<polygon points="233.1,185.2 240.5,189.4 236.5,191.7 229.2,187.5" fill="#fff" stroke="#8c8c8c" stroke-width="0.5" stroke-linejoin="round" />
<polygon points="226.9,188.8 234.3,193.0 230.3,195.3 222.9,191.1" fill="#fff" stroke="#8c8c8c" stroke-width="0.5" stroke-linejoin="round" />
<polygon points="327.1,130.4 334.5,134.7 330.5,137.0 323.1,132.7" fill="#fff" stroke="#8c8c8c" stroke-width="0.5" stroke-linejoin="round" />
<polygon points="320.9,134.0 328.2,138.3 324.3,140.6 316.9,136.3" fill="#fff" stroke="#8c8c8c" stroke-width="0.5" stroke-linejoin="round" />
<polygon points="297.3,113.6 304.7,117.9 300.7,120.2 293.3,115.9" fill="#fff" stroke="#8c8c8c" stroke-width="0.5" stroke-linejoin="round" />
<polygon points="291.1,117.2 298.4,121.5 294.5,123.8 287.1,119.5" fill="#fff" stroke="#8c8c8c" stroke-width="0.5" stroke-linejoin="round" />
<polygon points="202.7,167.8 210.0,172.0 206.0,174.3 198.7,170.1" fill="#fff" stroke="#8c8c8c" stroke-width="0.5" stroke-linejoin="round" />
<polygon points="196.4,171.4 203.8,175.6 199.8,177.9 192.4,173.7" fill="#fff" stroke="#8c8c8c" stroke-width="0.5" stroke-linejoin="round" />
<polygon points="224.5,155.9 231.8,160.1 227.9,162.4 220.5,158.2" fill="#fff" stroke="#8c8c8c" stroke-width="0.5" stroke-linejoin="round" />
<polygon points="238.0,108.2 260.5,121.2 253.0,125.5 230.5,112.5" fill="#fff" stroke="#8c8c8c" stroke-width="0.5" stroke-linejoin="round" />
<polygon points="243.2,167.2 265.8,180.2 258.3,184.5 235.8,171.5" fill="#fff" stroke="#8c8c8c" stroke-width="0.5" stroke-linejoin="round" />
<polygon points="232.8,86.0 272.2,108.8 272.2,126.8 232.8,104.0" fill="#fff" stroke="#8c8c8c" stroke-width="0.6" stroke-linejoin="round" />
<polygon points="272.2,108.8 311.7,86.0 311.7,104.0 272.2,126.8" fill="#b5b5b5" stroke="#8c8c8c" stroke-width="0.6" stroke-linejoin="round" />
<polygon points="272.2,63.2 311.7,86.0 272.2,108.8 232.8,86.0" fill="#fff" stroke="#8c8c8c" stroke-width="0.6" stroke-linejoin="round" />
<polygon points="277.4,78.4 264.3,86.0 277.4,93.6" fill="#adadad" stroke="none" stroke-width="0.6" stroke-linejoin="round" />
<polygon points="277.4,78.4 290.6,86.0 277.4,93.6" fill="#fff" stroke="none" stroke-width="0.6" stroke-linejoin="round" />
<polygon points="277.4,78.4 281.1,90.8 277.4,93.6" fill="#adadad" stroke="none" stroke-width="0.6" stroke-linejoin="round" />
<polygon points="277.4,78.4 290.6,86.0 277.4,93.6 264.3,86.0" fill="none" stroke="#8c8c8c" stroke-width="0.6" stroke-linejoin="round" />
<polyline points="277.4,78.4 277.4,93.6" fill="none" stroke="#8c8c8c" stroke-width="0.5" />
<polygon points="135.4,142.2 174.8,165.0 174.8,183.0 135.4,160.2" fill="#fff" stroke="#8c8c8c" stroke-width="0.6" stroke-linejoin="round" />
<polygon points="174.8,165.0 214.2,142.2 214.2,160.2 174.8,183.0" fill="#b5b5b5" stroke="#8c8c8c" stroke-width="0.6" stroke-linejoin="round" />
<polygon points="174.8,119.5 214.2,142.2 174.8,165.0 135.4,142.2" fill="#fff" stroke="#8c8c8c" stroke-width="0.6" stroke-linejoin="round" />
<polygon points="180.0,134.7 166.9,142.2 180.0,149.8" fill="#adadad" stroke="none" stroke-width="0.6" stroke-linejoin="round" />
<polygon points="180.0,134.7 193.2,142.2 180.0,149.8" fill="#fff" stroke="none" stroke-width="0.6" stroke-linejoin="round" />
<polygon points="180.0,134.7 183.7,147.1 180.0,149.8" fill="#adadad" stroke="none" stroke-width="0.6" stroke-linejoin="round" />
<polygon points="180.0,134.7 193.2,142.2 180.0,149.8 166.9,142.2" fill="none" stroke="#8c8c8c" stroke-width="0.6" stroke-linejoin="round" />
<polyline points="180.0,134.7 180.0,149.8" fill="none" stroke="#8c8c8c" stroke-width="0.5" />
<polygon points="233.3,142.2 272.7,165.0 272.7,183.0 237.6,162.8 233.3,154.2" fill="#fff" stroke="#8c8c8c" stroke-width="0.6" stroke-linejoin="round" />
<polygon points="272.7,165.0 312.1,142.2 312.1,160.2 272.7,183.0" fill="#b5b5b5" stroke="#8c8c8c" stroke-width="0.6" stroke-linejoin="round" />
<polygon points="272.7,119.5 312.1,142.2 272.7,165.0 233.3,142.2" fill="#fff" stroke="#8c8c8c" stroke-width="0.6" stroke-linejoin="round" />
<polygon points="277.9,134.7 264.7,142.2 277.9,149.8" fill="#adadad" stroke="none" stroke-width="0.6" stroke-linejoin="round" />
<polygon points="277.9,134.7 291.0,142.2 277.9,149.8" fill="#fff" stroke="none" stroke-width="0.6" stroke-linejoin="round" />
<polygon points="277.9,134.7 281.6,147.1 277.9,149.8" fill="#adadad" stroke="none" stroke-width="0.6" stroke-linejoin="round" />
<polygon points="277.9,134.7 291.0,142.2 277.9,149.8 264.7,142.2" fill="none" stroke="#8c8c8c" stroke-width="0.6" stroke-linejoin="round" />
<polyline points="277.9,134.7 277.9,149.8" fill="none" stroke="#8c8c8c" stroke-width="0.5" />
<rect x="86.6" y="401.2" width="12.0" height="7.6" fill="#23409a"/>
<text x="106.8" y="409.6" font-size="12.4" fill="#5c5c5c"  stroke="#fff" stroke-width="0.22">Staff Flow</text>
<rect x="86.6" y="416.8" width="12.0" height="7.6" fill="#eadf2e"/>
<text x="106.4" y="424.8" font-size="12.4" fill="#5c5c5c"  stroke="#fff" stroke-width="0.22">Visitor Flow</text>
<line x1="84.2" y1="577.7" x2="86.8" y2="573.3" stroke="#c4c4c4" stroke-width="0.7"/>
<line x1="85.8" y1="578.7" x2="88.4" y2="574.3" stroke="#c4c4c4" stroke-width="0.7"/>
<line x1="87.5" y1="579.7" x2="90.1" y2="575.3" stroke="#c4c4c4" stroke-width="0.7"/>
<line x1="89.1" y1="580.7" x2="91.7" y2="576.2" stroke="#c4c4c4" stroke-width="0.7"/>
<line x1="90.8" y1="581.7" x2="93.4" y2="577.2" stroke="#c4c4c4" stroke-width="0.7"/>
<line x1="92.4" y1="582.6" x2="95.0" y2="578.2" stroke="#c4c4c4" stroke-width="0.7"/>
<line x1="94.1" y1="583.6" x2="96.7" y2="579.2" stroke="#c4c4c4" stroke-width="0.7"/>
<line x1="95.7" y1="584.6" x2="98.3" y2="580.2" stroke="#c4c4c4" stroke-width="0.7"/>
<line x1="97.3" y1="585.6" x2="99.9" y2="581.2" stroke="#c4c4c4" stroke-width="0.7"/>
<line x1="99.0" y1="586.6" x2="101.6" y2="582.2" stroke="#c4c4c4" stroke-width="0.7"/>
<line x1="100.6" y1="587.6" x2="103.2" y2="583.2" stroke="#c4c4c4" stroke-width="0.7"/>
<line x1="102.3" y1="588.6" x2="104.9" y2="584.1" stroke="#c4c4c4" stroke-width="0.7"/>
<line x1="103.9" y1="589.5" x2="106.5" y2="585.1" stroke="#c4c4c4" stroke-width="0.7"/>
<line x1="105.5" y1="590.5" x2="108.1" y2="586.1" stroke="#c4c4c4" stroke-width="0.7"/>
<line x1="107.2" y1="591.5" x2="109.8" y2="587.1" stroke="#c4c4c4" stroke-width="0.7"/>
<line x1="108.8" y1="592.5" x2="111.4" y2="588.1" stroke="#c4c4c4" stroke-width="0.7"/>
<line x1="110.5" y1="593.5" x2="113.1" y2="589.1" stroke="#c4c4c4" stroke-width="0.7"/>
<line x1="112.1" y1="594.5" x2="114.7" y2="590.1" stroke="#c4c4c4" stroke-width="0.7"/>
<line x1="113.8" y1="595.5" x2="116.4" y2="591.0" stroke="#c4c4c4" stroke-width="0.7"/>
<line x1="115.4" y1="596.5" x2="118.0" y2="592.0" stroke="#c4c4c4" stroke-width="0.7"/>
<line x1="117.0" y1="597.4" x2="119.6" y2="593.0" stroke="#c4c4c4" stroke-width="0.7"/>
<line x1="118.7" y1="598.4" x2="121.3" y2="594.0" stroke="#c4c4c4" stroke-width="0.7"/>
<line x1="120.3" y1="599.4" x2="122.9" y2="595.0" stroke="#c4c4c4" stroke-width="0.7"/>
<line x1="122.0" y1="600.4" x2="124.6" y2="596.0" stroke="#c4c4c4" stroke-width="0.7"/>
<line x1="123.6" y1="601.4" x2="126.2" y2="597.0" stroke="#c4c4c4" stroke-width="0.7"/>
<line x1="125.2" y1="602.4" x2="127.8" y2="598.0" stroke="#c4c4c4" stroke-width="0.7"/>
<line x1="126.9" y1="603.4" x2="129.5" y2="598.9" stroke="#c4c4c4" stroke-width="0.7"/>
<line x1="128.5" y1="604.3" x2="131.1" y2="599.9" stroke="#c4c4c4" stroke-width="0.7"/>
<line x1="130.2" y1="605.3" x2="132.8" y2="600.9" stroke="#c4c4c4" stroke-width="0.7"/>
<line x1="131.8" y1="606.3" x2="134.4" y2="601.9" stroke="#c4c4c4" stroke-width="0.7"/>
<line x1="133.5" y1="607.3" x2="136.1" y2="602.9" stroke="#c4c4c4" stroke-width="0.7"/>
<line x1="135.1" y1="608.3" x2="137.7" y2="603.9" stroke="#c4c4c4" stroke-width="0.7"/>
<line x1="136.7" y1="609.3" x2="139.3" y2="604.9" stroke="#c4c4c4" stroke-width="0.7"/>
<line x1="138.4" y1="610.3" x2="141.0" y2="605.8" stroke="#c4c4c4" stroke-width="0.7"/>
<line x1="140.0" y1="611.3" x2="142.6" y2="606.8" stroke="#c4c4c4" stroke-width="0.7"/>
<line x1="141.7" y1="612.2" x2="144.3" y2="607.8" stroke="#c4c4c4" stroke-width="0.7"/>
<line x1="143.3" y1="613.2" x2="145.9" y2="608.8" stroke="#c4c4c4" stroke-width="0.7"/>
<line x1="144.9" y1="614.2" x2="147.6" y2="609.8" stroke="#c4c4c4" stroke-width="0.7"/>
<line x1="146.6" y1="615.2" x2="149.2" y2="610.8" stroke="#c4c4c4" stroke-width="0.7"/>
<line x1="148.2" y1="616.2" x2="150.8" y2="611.8" stroke="#c4c4c4" stroke-width="0.7"/>
<line x1="149.9" y1="617.2" x2="152.5" y2="612.7" stroke="#c4c4c4" stroke-width="0.7"/>
<line x1="151.5" y1="618.2" x2="154.1" y2="613.7" stroke="#c4c4c4" stroke-width="0.7"/>
<line x1="153.2" y1="619.1" x2="155.8" y2="614.7" stroke="#c4c4c4" stroke-width="0.7"/>
<line x1="154.8" y1="620.1" x2="157.4" y2="615.7" stroke="#c4c4c4" stroke-width="0.7"/>
<line x1="156.4" y1="621.1" x2="159.0" y2="616.7" stroke="#c4c4c4" stroke-width="0.7"/>
<line x1="158.1" y1="622.1" x2="160.7" y2="617.7" stroke="#c4c4c4" stroke-width="0.7"/>
<line x1="159.7" y1="623.1" x2="162.3" y2="618.7" stroke="#c4c4c4" stroke-width="0.7"/>
<line x1="161.4" y1="624.1" x2="164.0" y2="619.7" stroke="#c4c4c4" stroke-width="0.7"/>
<line x1="163.0" y1="625.1" x2="165.6" y2="620.6" stroke="#c4c4c4" stroke-width="0.7"/>
<line x1="164.7" y1="626.0" x2="167.3" y2="621.6" stroke="#c4c4c4" stroke-width="0.7"/>
<line x1="166.3" y1="627.0" x2="168.9" y2="622.6" stroke="#c4c4c4" stroke-width="0.7"/>
<line x1="167.9" y1="628.0" x2="170.5" y2="623.6" stroke="#c4c4c4" stroke-width="0.7"/>
<line x1="169.6" y1="629.0" x2="172.2" y2="624.6" stroke="#c4c4c4" stroke-width="0.7"/>
<line x1="171.2" y1="630.0" x2="173.8" y2="625.6" stroke="#c4c4c4" stroke-width="0.7"/>
<line x1="172.9" y1="631.0" x2="175.5" y2="626.6" stroke="#c4c4c4" stroke-width="0.7"/>
<line x1="174.5" y1="632.0" x2="177.1" y2="627.5" stroke="#c4c4c4" stroke-width="0.7"/>
<line x1="176.1" y1="633.0" x2="178.7" y2="628.5" stroke="#c4c4c4" stroke-width="0.7"/>
<line x1="177.8" y1="633.9" x2="180.4" y2="629.5" stroke="#c4c4c4" stroke-width="0.7"/>
<line x1="179.4" y1="634.9" x2="182.0" y2="630.5" stroke="#c4c4c4" stroke-width="0.7"/>
<line x1="181.1" y1="635.9" x2="183.7" y2="631.5" stroke="#c4c4c4" stroke-width="0.7"/>
<line x1="182.7" y1="636.9" x2="185.3" y2="632.5" stroke="#c4c4c4" stroke-width="0.7"/>
<line x1="184.4" y1="637.9" x2="187.0" y2="633.5" stroke="#c4c4c4" stroke-width="0.7"/>
<line x1="186.0" y1="638.9" x2="188.6" y2="634.5" stroke="#c4c4c4" stroke-width="0.7"/>
<line x1="187.6" y1="639.9" x2="190.2" y2="635.4" stroke="#c4c4c4" stroke-width="0.7"/>
<line x1="189.3" y1="640.8" x2="191.9" y2="636.4" stroke="#c4c4c4" stroke-width="0.7"/>
<line x1="190.9" y1="641.8" x2="193.5" y2="637.4" stroke="#c4c4c4" stroke-width="0.7"/>
<line x1="192.6" y1="642.8" x2="195.2" y2="638.4" stroke="#c4c4c4" stroke-width="0.7"/>
<line x1="194.2" y1="643.8" x2="196.8" y2="639.4" stroke="#c4c4c4" stroke-width="0.7"/>
<line x1="195.8" y1="644.8" x2="198.4" y2="640.4" stroke="#c4c4c4" stroke-width="0.7"/>
<line x1="197.5" y1="645.8" x2="200.1" y2="641.4" stroke="#c4c4c4" stroke-width="0.7"/>
<line x1="199.1" y1="646.8" x2="201.7" y2="642.3" stroke="#c4c4c4" stroke-width="0.7"/>
<line x1="200.8" y1="647.8" x2="203.4" y2="643.3" stroke="#c4c4c4" stroke-width="0.7"/>
<line x1="202.4" y1="648.7" x2="205.0" y2="644.3" stroke="#c4c4c4" stroke-width="0.7"/>
<line x1="204.1" y1="649.7" x2="206.7" y2="645.3" stroke="#c4c4c4" stroke-width="0.7"/>
<line x1="205.7" y1="650.7" x2="208.3" y2="646.3" stroke="#c4c4c4" stroke-width="0.7"/>
<polygon points="195.0,651.5 209.8,632.5 214.0,653.6" fill="#cfcfcf" stroke="none" stroke-width="0.6" stroke-linejoin="round" />
<polygon points="300.6,590.0 440.4,671.0 440.4,680.0 267.0,779.9 111.6,764.9 123.6,701.0 135.0,695.0" fill="#fff" stroke="#8c8c8c" stroke-width="0.6" stroke-linejoin="round" />
<polygon points="385.2,699.6 405.6,684.1 435.8,668.1 440.8,670.6 440.8,680.0 410.9,696.0 388.7,701.9" fill="#bdbdbd" stroke="#8c8c8c" stroke-width="0.4" stroke-linejoin="round" />
<polyline points="410.9,687.1 410.9,696.0" fill="none" stroke="#8c8c8c" stroke-width="0.4" />
<polyline points="405.6,684.1 410.9,687.1 440.8,670.6" fill="none" stroke="#8c8c8c" stroke-width="0.4" />
<polygon points="385.2,699.6 388.7,701.9 410.9,696.0 276.8,774.8 274.8,774.0" fill="#bdbdbd" stroke="none" stroke-width="0.6" stroke-linejoin="round" />
<polyline points="410.9,696.0 276.8,774.8" fill="none" stroke="#8c8c8c" stroke-width="0.4" />
<polyline points="385.6,671.8 405.6,684.1" fill="none" stroke="#8c8c8c" stroke-width="0.4" />
<polyline points="297.6,728.0 322.1,742.6" fill="none" stroke="#8c8c8c" stroke-width="0.4" />
<polyline points="341.6,706.7 362.1,719.1" fill="none" stroke="#8c8c8c" stroke-width="0.4" />
<polyline points="248.8,760.4 276.8,774.8" fill="none" stroke="#8c8c8c" stroke-width="0.4" />
<polyline points="272.1,606.2 410.9,687.1" fill="none" stroke="#8c8c8c" stroke-width="0.45" />
<polyline points="135.0,695.0 160.4,709.4" fill="none" stroke="#8c8c8c" stroke-width="0.45" />
<polyline points="313.3,597.5 137.9,698.8" fill="none" stroke="#8c8c8c" stroke-width="0.45" />
<polyline points="174.7,662.5 199.8,677.0" fill="none" stroke="#8c8c8c" stroke-width="0.45" />
<polyline points="223.6,634.2 248.8,648.8" fill="none" stroke="#8c8c8c" stroke-width="0.45" />
<polygon points="300.6,590.0 440.8,670.6 410.9,687.1 272.1,606.2" fill="#d3ebcc" stroke="none" stroke-width="0.6" stroke-linejoin="round" />
<polygon points="160.4,699.8 248.8,750.8 248.8,760.4 160.4,709.4" fill="#fff" stroke="#8c8c8c" stroke-width="0.5" stroke-linejoin="round" />
<polygon points="248.8,750.8 385.6,671.8 248.8,760.4" fill="#c2c2c2" stroke="#8c8c8c" stroke-width="0.4" stroke-linejoin="round" />
<polygon points="248.8,760.4 257.4,762.4 299.0,727.8" fill="#cfcfcf" stroke="none" stroke-width="0.6" stroke-linejoin="round" />
<polygon points="297.2,620.8 385.6,671.8 248.8,750.8 160.4,699.8" fill="#d3ebcc" stroke="#8c8c8c" stroke-width="0.6" stroke-linejoin="round" />
<polygon points="297.2,620.8 385.6,671.8 410.9,687.1 272.1,606.2" fill="#d3ebcc" stroke="none" stroke-width="0.6" stroke-linejoin="round" />
<polyline points="297.2,620.8 385.6,671.8" fill="none" stroke="#a9c7a3" stroke-width="0.4" />
<polyline points="336.7,643.5 199.8,722.5" fill="none" stroke="#9db596" stroke-width="0.45" />
<polyline points="346.2,649.0 209.3,728.0" fill="none" stroke="#9db596" stroke-width="0.45" />
<polyline points="257.8,643.5 346.2,694.5" fill="none" stroke="#9db596" stroke-width="0.45" />
<polyline points="248.8,648.8 337.1,699.8" fill="none" stroke="#9db596" stroke-width="0.45" />
<polyline points="209.3,671.5 297.7,722.5" fill="none" stroke="#9db596" stroke-width="0.45" />
<polyline points="199.8,677.0 288.2,728.0" fill="none" stroke="#9db596" stroke-width="0.45" />
<polygon points="297.2,620.8 336.7,643.5 297.2,666.2 257.8,643.5" fill="#edf6ea" stroke="#a9c7a3" stroke-width="0.4" stroke-linejoin="round" />
<polygon points="199.8,677.0 239.2,699.8 199.8,722.5 160.4,699.8" fill="#edf6ea" stroke="#a9c7a3" stroke-width="0.4" stroke-linejoin="round" />
<polygon points="297.7,677.0 337.1,699.8 297.7,722.5 258.3,699.8" fill="#edf6ea" stroke="#a9c7a3" stroke-width="0.4" stroke-linejoin="round" />
<polygon points="262.9,647.6 285.4,660.6 277.9,664.9 255.4,651.9" fill="#fff" stroke="#8c8c8c" stroke-width="0.45" stroke-linejoin="round" />
<polygon points="262.9,647.6 255.4,651.9 264.9,657.4" fill="#a9a9a9" stroke="#8c8c8c" stroke-width="0.3" stroke-linejoin="round" />
<polygon points="213.5,676.1 236.0,689.1 228.6,693.4 206.1,680.4" fill="#fff" stroke="#8c8c8c" stroke-width="0.45" stroke-linejoin="round" />
<polygon points="213.5,676.1 206.1,680.4 215.6,685.9" fill="#a9a9a9" stroke="#8c8c8c" stroke-width="0.3" stroke-linejoin="round" />
<polygon points="317.0,678.4 339.5,691.4 332.1,695.6 309.5,682.6" fill="#fff" stroke="#8c8c8c" stroke-width="0.45" stroke-linejoin="round" />
<polygon points="317.0,678.4 309.5,682.6 319.1,688.1" fill="#a9a9a9" stroke="#8c8c8c" stroke-width="0.3" stroke-linejoin="round" />
<polygon points="268.1,706.6 290.6,719.6 283.1,723.9 260.6,710.9" fill="#fff" stroke="#8c8c8c" stroke-width="0.45" stroke-linejoin="round" />
<polygon points="268.1,706.6 260.6,710.9 270.1,716.4" fill="#a9a9a9" stroke="#8c8c8c" stroke-width="0.3" stroke-linejoin="round" />
<polygon points="302.4,635.9 289.3,643.5 302.4,651.1" fill="#a8a8a8" stroke="none" stroke-width="0.6" stroke-linejoin="round" />
<polygon points="302.4,635.9 315.6,643.5 302.4,651.1" fill="#fff" stroke="none" stroke-width="0.6" stroke-linejoin="round" />
<polygon points="302.4,635.9 315.6,643.5 302.4,651.1 289.3,643.5" fill="none" stroke="#8c8c8c" stroke-width="0.6" stroke-linejoin="round" />
<polyline points="302.4,635.9 302.4,651.1" fill="none" stroke="#8c8c8c" stroke-width="0.5" />
<polygon points="205.0,692.1 191.9,699.8 205.0,707.4" fill="#a8a8a8" stroke="none" stroke-width="0.6" stroke-linejoin="round" />
<polygon points="205.0,692.1 218.2,699.8 205.0,707.4" fill="#fff" stroke="none" stroke-width="0.6" stroke-linejoin="round" />
<polygon points="205.0,692.1 218.2,699.8 205.0,707.4 191.9,699.8" fill="none" stroke="#8c8c8c" stroke-width="0.6" stroke-linejoin="round" />
<polyline points="205.0,692.1 205.0,707.4" fill="none" stroke="#8c8c8c" stroke-width="0.5" />
<polygon points="302.9,692.1 289.7,699.8 302.9,707.4" fill="#a8a8a8" stroke="none" stroke-width="0.6" stroke-linejoin="round" />
<polygon points="302.9,692.1 316.0,699.8 302.9,707.4" fill="#fff" stroke="none" stroke-width="0.6" stroke-linejoin="round" />
<polygon points="302.9,692.1 316.0,699.8 302.9,707.4 289.7,699.8" fill="none" stroke="#8c8c8c" stroke-width="0.6" stroke-linejoin="round" />
<polyline points="302.9,692.1 302.9,707.4" fill="none" stroke="#8c8c8c" stroke-width="0.5" />
<polygon points="249.7,665.1 257.1,669.4 253.1,671.7 245.8,667.4" fill="#fff" stroke="#8c8c8c" stroke-width="0.5" stroke-linejoin="round" />
<polygon points="249.7,665.1 245.8,667.4 251.4,670.7" fill="#b0b0b0" stroke="none" stroke-width="0.6" stroke-linejoin="round" />
<polygon points="243.5,668.7 250.9,673.0 246.9,675.3 239.5,671.0" fill="#fff" stroke="#8c8c8c" stroke-width="0.5" stroke-linejoin="round" />
<polygon points="243.5,668.7 239.5,671.0 245.2,674.3" fill="#b0b0b0" stroke="none" stroke-width="0.6" stroke-linejoin="round" />
<polygon points="322.3,653.8 329.7,658.1 325.7,660.4 318.3,656.1" fill="#fff" stroke="#8c8c8c" stroke-width="0.5" stroke-linejoin="round" />
<polygon points="322.3,653.8 318.3,656.1 324.0,659.4" fill="#b0b0b0" stroke="none" stroke-width="0.6" stroke-linejoin="round" />
<polygon points="316.1,657.4 323.4,661.7 319.5,664.0 312.1,659.7" fill="#fff" stroke="#8c8c8c" stroke-width="0.5" stroke-linejoin="round" />
<polygon points="316.1,657.4 312.1,659.7 317.7,663.0" fill="#b0b0b0" stroke="none" stroke-width="0.6" stroke-linejoin="round" />
<polygon points="352.5,669.8 359.9,674.0 355.9,676.3 348.6,672.1" fill="#fff" stroke="#8c8c8c" stroke-width="0.5" stroke-linejoin="round" />
<polygon points="352.5,669.8 348.6,672.1 354.2,675.3" fill="#b0b0b0" stroke="none" stroke-width="0.6" stroke-linejoin="round" />
<polygon points="346.3,673.4 353.7,677.6 349.7,679.9 342.3,675.7" fill="#fff" stroke="#8c8c8c" stroke-width="0.5" stroke-linejoin="round" />
<polygon points="346.3,673.4 342.3,675.7 348.0,678.9" fill="#b0b0b0" stroke="none" stroke-width="0.6" stroke-linejoin="round" />
<polygon points="277.1,679.3 284.5,683.6 280.5,685.9 273.1,681.6" fill="#fff" stroke="#8c8c8c" stroke-width="0.5" stroke-linejoin="round" />
<polygon points="277.1,679.3 273.1,681.6 278.8,684.9" fill="#b0b0b0" stroke="none" stroke-width="0.6" stroke-linejoin="round" />
<polygon points="270.9,682.9 278.2,687.2 274.3,689.5 266.9,685.2" fill="#fff" stroke="#8c8c8c" stroke-width="0.5" stroke-linejoin="round" />
<polygon points="270.9,682.9 266.9,685.2 272.5,688.5" fill="#b0b0b0" stroke="none" stroke-width="0.6" stroke-linejoin="round" />
<polygon points="228.1,706.6 235.5,710.9 231.5,713.2 224.1,708.9" fill="#fff" stroke="#8c8c8c" stroke-width="0.5" stroke-linejoin="round" />
<polygon points="228.1,706.6 224.1,708.9 229.7,712.2" fill="#b0b0b0" stroke="none" stroke-width="0.6" stroke-linejoin="round" />
<polygon points="221.9,710.2 229.2,714.5 225.2,716.8 217.9,712.5" fill="#fff" stroke="#8c8c8c" stroke-width="0.5" stroke-linejoin="round" />
<polygon points="221.9,710.2 217.9,712.5 223.5,715.8" fill="#b0b0b0" stroke="none" stroke-width="0.6" stroke-linejoin="round" />
<polygon points="258.2,724.5 265.6,728.8 261.6,731.1 254.3,726.8" fill="#fff" stroke="#8c8c8c" stroke-width="0.5" stroke-linejoin="round" />
<polygon points="258.2,724.5 254.3,726.8 259.9,730.1" fill="#b0b0b0" stroke="none" stroke-width="0.6" stroke-linejoin="round" />
<polygon points="252.0,728.1 259.4,732.4 255.4,734.7 248.0,730.4" fill="#fff" stroke="#8c8c8c" stroke-width="0.5" stroke-linejoin="round" />
<polygon points="252.0,728.1 248.0,730.4 253.6,733.7" fill="#b0b0b0" stroke="none" stroke-width="0.6" stroke-linejoin="round" />
<polygon points="296.5,667.9 303.9,672.2 299.9,674.5 292.5,670.2" fill="#fff" stroke="#8c8c8c" stroke-width="0.5" stroke-linejoin="round" />
<polygon points="296.5,667.9 292.5,670.2 298.2,673.5" fill="#b0b0b0" stroke="none" stroke-width="0.6" stroke-linejoin="round" />
<polygon points="247.6,695.2 254.9,699.4 251.0,701.7 243.6,697.5" fill="#fff" stroke="#8c8c8c" stroke-width="0.5" stroke-linejoin="round" />
<polygon points="247.6,695.2 243.6,697.5 249.2,700.7" fill="#b0b0b0" stroke="none" stroke-width="0.6" stroke-linejoin="round" />
<polygon points="171.0,749.0 190.5,738.5 204.2,736.2 185.2,748.5" fill="#bebebe" stroke="none" stroke-width="0.6" stroke-linejoin="round" />
<polygon points="146.4,762.4 157.8,755.8 169.2,755.4 157.8,762.1" fill="#bebebe" stroke="none" stroke-width="0.6" stroke-linejoin="round" />
<polygon points="130.5,719.9 171.0,740.0 171.0,749.0 130.5,728.9" fill="#fff" stroke="#8c8c8c" stroke-width="0.5" stroke-linejoin="round" />
<polygon points="171.0,740.0 190.5,729.5 190.5,738.5 171.0,749.0" fill="#b8b8b8" stroke="#8c8c8c" stroke-width="0.5" stroke-linejoin="round" />
<polygon points="130.5,719.9 148.5,707.9 190.5,729.5 171.0,740.0" fill="#fff" stroke="#8c8c8c" stroke-width="0.5" stroke-linejoin="round" />
<polygon points="117.6,755.4 146.4,756.4 146.4,762.4 117.6,761.4" fill="#b8b8b8" stroke="#8c8c8c" stroke-width="0.5" stroke-linejoin="round" />
<polygon points="146.4,756.4 157.8,749.8 157.8,755.8 146.4,762.4" fill="#b8b8b8" stroke="#8c8c8c" stroke-width="0.5" stroke-linejoin="round" />
<polygon points="117.6,755.4 122.8,731.1 157.8,749.8 146.4,756.4" fill="#fff" stroke="#8c8c8c" stroke-width="0.5" stroke-linejoin="round" />
<polygon points="303.5,714.0 403.5,768.0 404.7,772.7 304.7,718.7" fill="#d6ecd0" stroke="#4f6f4a" stroke-width="0.5" stroke-linejoin="round" />
<line x1="457.7" y1="786.7" x2="460.3" y2="782.3" stroke="#c4c4c4" stroke-width="0.7"/>
<line x1="456.0" y1="785.8" x2="458.6" y2="781.4" stroke="#c4c4c4" stroke-width="0.7"/>
<line x1="454.4" y1="784.9" x2="457.0" y2="780.5" stroke="#c4c4c4" stroke-width="0.7"/>
<line x1="452.7" y1="784.0" x2="455.3" y2="779.6" stroke="#c4c4c4" stroke-width="0.7"/>
<line x1="451.0" y1="783.1" x2="453.6" y2="778.7" stroke="#c4c4c4" stroke-width="0.7"/>
<line x1="449.3" y1="782.2" x2="451.9" y2="777.8" stroke="#c4c4c4" stroke-width="0.7"/>
<line x1="447.7" y1="781.3" x2="450.3" y2="776.8" stroke="#c4c4c4" stroke-width="0.7"/>
<line x1="446.0" y1="780.4" x2="448.6" y2="775.9" stroke="#c4c4c4" stroke-width="0.7"/>
<line x1="444.3" y1="779.5" x2="446.9" y2="775.0" stroke="#c4c4c4" stroke-width="0.7"/>
<line x1="442.6" y1="778.5" x2="445.2" y2="774.1" stroke="#c4c4c4" stroke-width="0.7"/>
<line x1="441.0" y1="777.6" x2="443.6" y2="773.2" stroke="#c4c4c4" stroke-width="0.7"/>
<line x1="439.3" y1="776.7" x2="441.9" y2="772.3" stroke="#c4c4c4" stroke-width="0.7"/>
<line x1="437.6" y1="775.8" x2="440.2" y2="771.4" stroke="#c4c4c4" stroke-width="0.7"/>
<line x1="435.9" y1="774.9" x2="438.5" y2="770.5" stroke="#c4c4c4" stroke-width="0.7"/>
<line x1="434.3" y1="774.0" x2="436.9" y2="769.6" stroke="#c4c4c4" stroke-width="0.7"/>
<line x1="432.6" y1="773.1" x2="435.2" y2="768.7" stroke="#c4c4c4" stroke-width="0.7"/>
<line x1="430.9" y1="772.2" x2="433.5" y2="767.8" stroke="#c4c4c4" stroke-width="0.7"/>
<line x1="429.2" y1="771.3" x2="431.8" y2="766.9" stroke="#c4c4c4" stroke-width="0.7"/>
<line x1="427.6" y1="770.4" x2="430.2" y2="766.0" stroke="#c4c4c4" stroke-width="0.7"/>
<line x1="425.9" y1="769.5" x2="428.5" y2="765.1" stroke="#c4c4c4" stroke-width="0.7"/>
<line x1="424.2" y1="768.6" x2="426.8" y2="764.2" stroke="#c4c4c4" stroke-width="0.7"/>
<line x1="422.5" y1="767.7" x2="425.1" y2="763.2" stroke="#c4c4c4" stroke-width="0.7"/>
<line x1="420.9" y1="766.8" x2="423.5" y2="762.3" stroke="#c4c4c4" stroke-width="0.7"/>
<line x1="419.2" y1="765.8" x2="421.8" y2="761.4" stroke="#c4c4c4" stroke-width="0.7"/>
<line x1="417.5" y1="764.9" x2="420.1" y2="760.5" stroke="#c4c4c4" stroke-width="0.7"/>
<line x1="415.8" y1="764.0" x2="418.4" y2="759.6" stroke="#c4c4c4" stroke-width="0.7"/>
<line x1="414.2" y1="763.1" x2="416.8" y2="758.7" stroke="#c4c4c4" stroke-width="0.7"/>
<line x1="412.5" y1="762.2" x2="415.1" y2="757.8" stroke="#c4c4c4" stroke-width="0.7"/>
<line x1="410.8" y1="761.3" x2="413.4" y2="756.9" stroke="#c4c4c4" stroke-width="0.7"/>
<line x1="409.1" y1="760.4" x2="411.7" y2="756.0" stroke="#c4c4c4" stroke-width="0.7"/>
<line x1="407.5" y1="759.5" x2="410.1" y2="755.1" stroke="#c4c4c4" stroke-width="0.7"/>
<line x1="405.8" y1="758.6" x2="408.4" y2="754.2" stroke="#c4c4c4" stroke-width="0.7"/>
<line x1="404.1" y1="757.7" x2="406.7" y2="753.3" stroke="#c4c4c4" stroke-width="0.7"/>
<line x1="402.4" y1="756.8" x2="405.0" y2="752.4" stroke="#c4c4c4" stroke-width="0.7"/>
<line x1="400.8" y1="755.9" x2="403.4" y2="751.5" stroke="#c4c4c4" stroke-width="0.7"/>
<line x1="399.1" y1="755.0" x2="401.7" y2="750.5" stroke="#c4c4c4" stroke-width="0.7"/>
<line x1="397.4" y1="754.1" x2="400.0" y2="749.6" stroke="#c4c4c4" stroke-width="0.7"/>
<line x1="395.7" y1="753.2" x2="398.3" y2="748.7" stroke="#c4c4c4" stroke-width="0.7"/>
<line x1="394.1" y1="752.2" x2="396.7" y2="747.8" stroke="#c4c4c4" stroke-width="0.7"/>
<line x1="392.4" y1="751.3" x2="395.0" y2="746.9" stroke="#c4c4c4" stroke-width="0.7"/>
<line x1="390.7" y1="750.4" x2="393.3" y2="746.0" stroke="#c4c4c4" stroke-width="0.7"/>
<line x1="389.0" y1="749.5" x2="391.6" y2="745.1" stroke="#c4c4c4" stroke-width="0.7"/>
<line x1="387.4" y1="748.6" x2="390.0" y2="744.2" stroke="#c4c4c4" stroke-width="0.7"/>
<line x1="385.7" y1="747.7" x2="388.3" y2="743.3" stroke="#c4c4c4" stroke-width="0.7"/>
<polygon points="370.2,733.8 391.4,731.7 378.7,750.7" fill="#cfcfcf" stroke="none" stroke-width="0.6" stroke-linejoin="round" />
<path d="M317.2,607.6 v3.1" stroke="#151515" stroke-width="1.5" stroke-linecap="round"/>
<path d="M323.8,607.8 v3.1" stroke="#151515" stroke-width="1.5" stroke-linecap="round"/>
<path d="M331.6,608.3 v3.1" stroke="#151515" stroke-width="1.5" stroke-linecap="round"/>
<path d="M325.3,609.8 v3.1" stroke="#151515" stroke-width="1.5" stroke-linecap="round"/>
<path d="M331.3,611.0 v3.1" stroke="#151515" stroke-width="1.5" stroke-linecap="round"/>
<path d="M328.2,612.2 v3.1" stroke="#151515" stroke-width="1.5" stroke-linecap="round"/>
<path d="M308.7,615.3 v3.1" stroke="#151515" stroke-width="1.5" stroke-linecap="round"/>
<path d="M325.8,615.7 v3.1" stroke="#151515" stroke-width="1.5" stroke-linecap="round"/>
<path d="M315.0,615.8 v3.1" stroke="#151515" stroke-width="1.5" stroke-linecap="round"/>
<path d="M330.4,618.1 v3.1" stroke="#151515" stroke-width="1.5" stroke-linecap="round"/>
<path d="M309.6,618.1 v3.1" stroke="#151515" stroke-width="1.5" stroke-linecap="round"/>
<path d="M336.9,618.6 v3.1" stroke="#151515" stroke-width="1.5" stroke-linecap="round"/>
<path d="M311.6,619.1 v3.1" stroke="#151515" stroke-width="1.5" stroke-linecap="round"/>
<path d="M308.4,619.5 v3.1" stroke="#151515" stroke-width="1.5" stroke-linecap="round"/>
<path d="M306.4,619.7 v3.1" stroke="#151515" stroke-width="1.5" stroke-linecap="round"/>
<path d="M349.3,620.5 v3.1" stroke="#151515" stroke-width="1.5" stroke-linecap="round"/>
<path d="M349.6,620.7 v3.1" stroke="#151515" stroke-width="1.5" stroke-linecap="round"/>
<path d="M322.7,621.6 v3.1" stroke="#151515" stroke-width="1.5" stroke-linecap="round"/>
<path d="M360.7,624.0 v3.1" stroke="#151515" stroke-width="1.5" stroke-linecap="round"/>
<path d="M317.2,624.1 v3.1" stroke="#151515" stroke-width="1.5" stroke-linecap="round"/>
<path d="M349.9,625.8 v3.1" stroke="#151515" stroke-width="1.5" stroke-linecap="round"/>
<path d="M324.1,629.0 v3.1" stroke="#151515" stroke-width="1.5" stroke-linecap="round"/>
<path d="M354.9,633.8 v3.1" stroke="#151515" stroke-width="1.5" stroke-linecap="round"/>
<path d="M364.5,635.2 v3.1" stroke="#151515" stroke-width="1.5" stroke-linecap="round"/>
<path d="M373.5,635.8 v3.1" stroke="#151515" stroke-width="1.5" stroke-linecap="round"/>
<path d="M281.9,638.2 v3.1" stroke="#151515" stroke-width="1.5" stroke-linecap="round"/>
<path d="M374.9,638.4 v3.1" stroke="#151515" stroke-width="1.5" stroke-linecap="round"/>
<path d="M371.3,639.1 v3.1" stroke="#151515" stroke-width="1.5" stroke-linecap="round"/>
<path d="M273.7,640.4 v3.1" stroke="#151515" stroke-width="1.5" stroke-linecap="round"/>
<path d="M347.2,641.2 v3.1" stroke="#151515" stroke-width="1.5" stroke-linecap="round"/>
<path d="M373.0,642.9 v3.1" stroke="#151515" stroke-width="1.5" stroke-linecap="round"/>
<path d="M256.1,643.0 v3.1" stroke="#151515" stroke-width="1.5" stroke-linecap="round"/>
<path d="M264.2,644.0 v3.1" stroke="#151515" stroke-width="1.5" stroke-linecap="round"/>
<path d="M280.7,644.9 v3.1" stroke="#151515" stroke-width="1.5" stroke-linecap="round"/>
<path d="M391.8,645.4 v3.1" stroke="#151515" stroke-width="1.5" stroke-linecap="round"/>
<path d="M262.3,646.9 v3.1" stroke="#151515" stroke-width="1.5" stroke-linecap="round"/>
<path d="M368.5,647.6 v3.1" stroke="#151515" stroke-width="1.5" stroke-linecap="round"/>
<path d="M401.6,647.6 v3.1" stroke="#151515" stroke-width="1.5" stroke-linecap="round"/>
<path d="M324.0,647.7 v3.1" stroke="#151515" stroke-width="1.5" stroke-linecap="round"/>
<path d="M268.3,648.2 v3.1" stroke="#151515" stroke-width="1.5" stroke-linecap="round"/>
<path d="M332.1,648.3 v3.1" stroke="#151515" stroke-width="1.5" stroke-linecap="round"/>
<path d="M378.9,648.3 v3.1" stroke="#151515" stroke-width="1.5" stroke-linecap="round"/>
<path d="M262.6,649.0 v3.1" stroke="#151515" stroke-width="1.5" stroke-linecap="round"/>
<path d="M338.3,649.4 v3.1" stroke="#151515" stroke-width="1.5" stroke-linecap="round"/>
<path d="M280.2,649.5 v3.1" stroke="#151515" stroke-width="1.5" stroke-linecap="round"/>
<path d="M331.8,649.5 v3.1" stroke="#151515" stroke-width="1.5" stroke-linecap="round"/>
<path d="M361.1,649.7 v3.1" stroke="#151515" stroke-width="1.5" stroke-linecap="round"/>
<path d="M350.0,649.9 v3.1" stroke="#151515" stroke-width="1.5" stroke-linecap="round"/>
<path d="M321.2,650.1 v3.1" stroke="#151515" stroke-width="1.5" stroke-linecap="round"/>
<path d="M321.5,650.2 v3.1" stroke="#151515" stroke-width="1.5" stroke-linecap="round"/>
<path d="M361.4,650.3 v3.1" stroke="#151515" stroke-width="1.5" stroke-linecap="round"/>
<path d="M272.4,650.5 v3.1" stroke="#151515" stroke-width="1.5" stroke-linecap="round"/>
<path d="M388.0,651.2 v3.1" stroke="#151515" stroke-width="1.5" stroke-linecap="round"/>
<path d="M275.8,651.7 v3.1" stroke="#151515" stroke-width="1.5" stroke-linecap="round"/>
<path d="M292.5,652.4 v3.1" stroke="#151515" stroke-width="1.5" stroke-linecap="round"/>
<path d="M344.9,652.7 v3.1" stroke="#151515" stroke-width="1.5" stroke-linecap="round"/>
<path d="M240.2,652.9 v3.1" stroke="#151515" stroke-width="1.5" stroke-linecap="round"/>
<path d="M373.0,653.0 v3.1" stroke="#151515" stroke-width="1.5" stroke-linecap="round"/>
<path d="M305.6,653.3 v3.1" stroke="#151515" stroke-width="1.5" stroke-linecap="round"/>
<path d="M297.2,653.3 v3.1" stroke="#151515" stroke-width="1.5" stroke-linecap="round"/>
<path d="M318.7,653.5 v3.1" stroke="#151515" stroke-width="1.5" stroke-linecap="round"/>
<path d="M399.1,653.8 v3.1" stroke="#151515" stroke-width="1.5" stroke-linecap="round"/>
<path d="M261.5,654.4 v3.1" stroke="#151515" stroke-width="1.5" stroke-linecap="round"/>
<path d="M275.0,654.6 v3.1" stroke="#151515" stroke-width="1.5" stroke-linecap="round"/>
<path d="M329.1,654.7 v3.1" stroke="#151515" stroke-width="1.5" stroke-linecap="round"/>
<path d="M249.2,654.9 v3.1" stroke="#151515" stroke-width="1.5" stroke-linecap="round"/>
<path d="M249.2,655.9 v3.1" stroke="#151515" stroke-width="1.5" stroke-linecap="round"/>
<path d="M309.1,656.2 v3.1" stroke="#151515" stroke-width="1.5" stroke-linecap="round"/>
<path d="M279.4,656.4 v3.1" stroke="#151515" stroke-width="1.5" stroke-linecap="round"/>
<path d="M411.6,656.7 v3.1" stroke="#151515" stroke-width="1.5" stroke-linecap="round"/>
<path d="M406.3,657.1 v3.1" stroke="#151515" stroke-width="1.5" stroke-linecap="round"/>
<path d="M307.5,657.8 v3.1" stroke="#151515" stroke-width="1.5" stroke-linecap="round"/>
<path d="M344.7,657.9 v3.1" stroke="#151515" stroke-width="1.5" stroke-linecap="round"/>
<path d="M253.3,658.1 v3.1" stroke="#151515" stroke-width="1.5" stroke-linecap="round"/>
<path d="M364.1,658.2 v3.1" stroke="#151515" stroke-width="1.5" stroke-linecap="round"/>
<path d="M344.3,658.3 v3.1" stroke="#151515" stroke-width="1.5" stroke-linecap="round"/>
<path d="M355.1,659.9 v3.1" stroke="#151515" stroke-width="1.5" stroke-linecap="round"/>
<path d="M334.8,660.4 v3.1" stroke="#151515" stroke-width="1.5" stroke-linecap="round"/>
<path d="M329.2,660.8 v3.1" stroke="#151515" stroke-width="1.5" stroke-linecap="round"/>
<path d="M339.9,661.1 v3.1" stroke="#151515" stroke-width="1.5" stroke-linecap="round"/>
<path d="M285.8,661.7 v3.1" stroke="#151515" stroke-width="1.5" stroke-linecap="round"/>
<path d="M289.3,661.9 v3.1" stroke="#151515" stroke-width="1.5" stroke-linecap="round"/>
<path d="M238.6,662.2 v3.1" stroke="#151515" stroke-width="1.5" stroke-linecap="round"/>
<path d="M228.1,662.3 v3.1" stroke="#151515" stroke-width="1.5" stroke-linecap="round"/>
<path d="M282.0,662.8 v3.1" stroke="#151515" stroke-width="1.5" stroke-linecap="round"/>
<path d="M316.8,663.7 v3.1" stroke="#151515" stroke-width="1.5" stroke-linecap="round"/>
<path d="M387.0,663.8 v3.1" stroke="#151515" stroke-width="1.5" stroke-linecap="round"/>
<path d="M342.0,663.9 v3.1" stroke="#151515" stroke-width="1.5" stroke-linecap="round"/>
<path d="M333.2,664.2 v3.1" stroke="#151515" stroke-width="1.5" stroke-linecap="round"/>
<path d="M284.8,664.3 v3.1" stroke="#151515" stroke-width="1.5" stroke-linecap="round"/>
<path d="M338.8,664.6 v3.1" stroke="#151515" stroke-width="1.5" stroke-linecap="round"/>
<path d="M385.7,665.1 v3.1" stroke="#151515" stroke-width="1.5" stroke-linecap="round"/>
<path d="M269.7,665.2 v3.1" stroke="#151515" stroke-width="1.5" stroke-linecap="round"/>
<path d="M300.8,665.3 v3.1" stroke="#151515" stroke-width="1.5" stroke-linecap="round"/>
<path d="M338.5,665.7 v3.1" stroke="#151515" stroke-width="1.5" stroke-linecap="round"/>
<path d="M305.0,665.9 v3.1" stroke="#151515" stroke-width="1.5" stroke-linecap="round"/>
<path d="M306.3,666.2 v3.1" stroke="#151515" stroke-width="1.5" stroke-linecap="round"/>
<path d="M226.9,666.5 v3.1" stroke="#151515" stroke-width="1.5" stroke-linecap="round"/>
<path d="M233.3,666.7 v3.1" stroke="#151515" stroke-width="1.5" stroke-linecap="round"/>
<path d="M306.0,666.8 v3.1" stroke="#151515" stroke-width="1.5" stroke-linecap="round"/>
<path d="M226.7,667.1 v3.1" stroke="#151515" stroke-width="1.5" stroke-linecap="round"/>
<path d="M321.0,667.3 v3.1" stroke="#151515" stroke-width="1.5" stroke-linecap="round"/>
<path d="M344.6,668.6 v3.1" stroke="#151515" stroke-width="1.5" stroke-linecap="round"/>
<path d="M368.1,668.6 v3.1" stroke="#151515" stroke-width="1.5" stroke-linecap="round"/>
<path d="M303.0,668.6 v3.1" stroke="#151515" stroke-width="1.5" stroke-linecap="round"/>
<path d="M317.4,668.7 v3.1" stroke="#151515" stroke-width="1.5" stroke-linecap="round"/>
<path d="M297.7,669.1 v3.1" stroke="#151515" stroke-width="1.5" stroke-linecap="round"/>
<path d="M209.7,669.4 v3.1" stroke="#151515" stroke-width="1.5" stroke-linecap="round"/>
<path d="M231.9,670.6 v3.1" stroke="#151515" stroke-width="1.5" stroke-linecap="round"/>
<path d="M293.2,670.6 v3.1" stroke="#151515" stroke-width="1.5" stroke-linecap="round"/>
<path d="M307.2,670.8 v3.1" stroke="#151515" stroke-width="1.5" stroke-linecap="round"/>
<path d="M396.1,671.0 v3.1" stroke="#151515" stroke-width="1.5" stroke-linecap="round"/>
<path d="M293.3,671.7 v3.1" stroke="#151515" stroke-width="1.5" stroke-linecap="round"/>
<path d="M298.2,672.2 v3.1" stroke="#151515" stroke-width="1.5" stroke-linecap="round"/>
<path d="M259.1,672.4 v3.1" stroke="#151515" stroke-width="1.5" stroke-linecap="round"/>
<path d="M279.7,672.9 v3.1" stroke="#151515" stroke-width="1.5" stroke-linecap="round"/>
<path d="M289.6,673.1 v3.1" stroke="#151515" stroke-width="1.5" stroke-linecap="round"/>
<path d="M217.4,673.4 v3.1" stroke="#151515" stroke-width="1.5" stroke-linecap="round"/>
<path d="M355.4,673.7 v3.1" stroke="#151515" stroke-width="1.5" stroke-linecap="round"/>
<path d="M351.9,673.8 v3.1" stroke="#151515" stroke-width="1.5" stroke-linecap="round"/>
<path d="M316.5,674.0 v3.1" stroke="#151515" stroke-width="1.5" stroke-linecap="round"/>
<path d="M270.8,674.2 v3.1" stroke="#151515" stroke-width="1.5" stroke-linecap="round"/>
<path d="M329.8,674.3 v3.1" stroke="#151515" stroke-width="1.5" stroke-linecap="round"/>
<path d="M240.0,674.3 v3.1" stroke="#151515" stroke-width="1.5" stroke-linecap="round"/>
<path d="M262.3,674.3 v3.1" stroke="#151515" stroke-width="1.5" stroke-linecap="round"/>
<path d="M338.5,674.6 v3.1" stroke="#151515" stroke-width="1.5" stroke-linecap="round"/>
<path d="M204.9,674.7 v3.1" stroke="#151515" stroke-width="1.5" stroke-linecap="round"/>
<path d="M276.0,674.9 v3.1" stroke="#151515" stroke-width="1.5" stroke-linecap="round"/>
<path d="M327.7,675.0 v3.1" stroke="#151515" stroke-width="1.5" stroke-linecap="round"/>
<path d="M204.0,675.0 v3.1" stroke="#151515" stroke-width="1.5" stroke-linecap="round"/>
<path d="M337.4,675.0 v3.1" stroke="#151515" stroke-width="1.5" stroke-linecap="round"/>
<path d="M229.0,675.1 v3.1" stroke="#151515" stroke-width="1.5" stroke-linecap="round"/>
<path d="M270.2,675.3 v3.1" stroke="#151515" stroke-width="1.5" stroke-linecap="round"/>
<path d="M362.8,675.3 v3.1" stroke="#151515" stroke-width="1.5" stroke-linecap="round"/>
<path d="M216.2,675.6 v3.1" stroke="#151515" stroke-width="1.5" stroke-linecap="round"/>
<path d="M411.1,675.9 v3.1" stroke="#151515" stroke-width="1.5" stroke-linecap="round"/>
<path d="M286.6,676.0 v3.1" stroke="#151515" stroke-width="1.5" stroke-linecap="round"/>
<path d="M267.8,676.1 v3.1" stroke="#151515" stroke-width="1.5" stroke-linecap="round"/>
<path d="M243.6,677.3 v3.1" stroke="#151515" stroke-width="1.5" stroke-linecap="round"/>
<path d="M330.9,677.5 v3.1" stroke="#151515" stroke-width="1.5" stroke-linecap="round"/>
<path d="M282.0,677.5 v3.1" stroke="#151515" stroke-width="1.5" stroke-linecap="round"/>
<path d="M273.7,677.6 v3.1" stroke="#151515" stroke-width="1.5" stroke-linecap="round"/>
<path d="M334.1,678.1 v3.1" stroke="#151515" stroke-width="1.5" stroke-linecap="round"/>
<path d="M270.4,678.5 v3.1" stroke="#151515" stroke-width="1.5" stroke-linecap="round"/>
<path d="M238.8,678.8 v3.1" stroke="#151515" stroke-width="1.5" stroke-linecap="round"/>
<path d="M251.8,679.4 v3.1" stroke="#151515" stroke-width="1.5" stroke-linecap="round"/>
<path d="M357.4,680.9 v3.1" stroke="#151515" stroke-width="1.5" stroke-linecap="round"/>
<path d="M357.5,681.2 v3.1" stroke="#151515" stroke-width="1.5" stroke-linecap="round"/>
<path d="M250.6,681.6 v3.1" stroke="#151515" stroke-width="1.5" stroke-linecap="round"/>
<path d="M253.6,682.3 v3.1" stroke="#151515" stroke-width="1.5" stroke-linecap="round"/>
<path d="M349.3,682.8 v3.1" stroke="#151515" stroke-width="1.5" stroke-linecap="round"/>
<path d="M229.2,682.9 v3.1" stroke="#151515" stroke-width="1.5" stroke-linecap="round"/>
<path d="M229.7,683.4 v3.1" stroke="#151515" stroke-width="1.5" stroke-linecap="round"/>
<path d="M263.6,684.4 v3.1" stroke="#151515" stroke-width="1.5" stroke-linecap="round"/>
<path d="M242.5,684.6 v3.1" stroke="#151515" stroke-width="1.5" stroke-linecap="round"/>
<path d="M262.1,684.6 v3.1" stroke="#151515" stroke-width="1.5" stroke-linecap="round"/>
<path d="M321.3,685.3 v3.1" stroke="#151515" stroke-width="1.5" stroke-linecap="round"/>
<path d="M239.4,685.6 v3.1" stroke="#151515" stroke-width="1.5" stroke-linecap="round"/>
<path d="M262.9,685.7 v3.1" stroke="#151515" stroke-width="1.5" stroke-linecap="round"/>
<path d="M237.6,686.8 v3.1" stroke="#151515" stroke-width="1.5" stroke-linecap="round"/>
<path d="M240.8,687.1 v3.1" stroke="#151515" stroke-width="1.5" stroke-linecap="round"/>
<path d="M268.8,687.2 v3.1" stroke="#151515" stroke-width="1.5" stroke-linecap="round"/>
<path d="M246.9,687.3 v3.1" stroke="#151515" stroke-width="1.5" stroke-linecap="round"/>
<path d="M326.5,687.6 v3.1" stroke="#151515" stroke-width="1.5" stroke-linecap="round"/>
<path d="M339.5,688.3 v3.1" stroke="#151515" stroke-width="1.5" stroke-linecap="round"/>
<path d="M265.4,688.4 v3.1" stroke="#151515" stroke-width="1.5" stroke-linecap="round"/>
<path d="M328.8,688.8 v3.1" stroke="#151515" stroke-width="1.5" stroke-linecap="round"/>
<path d="M224.2,689.6 v3.1" stroke="#151515" stroke-width="1.5" stroke-linecap="round"/>
<path d="M249.6,690.3 v3.1" stroke="#151515" stroke-width="1.5" stroke-linecap="round"/>
<path d="M334.2,690.9 v3.1" stroke="#151515" stroke-width="1.5" stroke-linecap="round"/>
<path d="M273.3,691.0 v3.1" stroke="#151515" stroke-width="1.5" stroke-linecap="round"/>
<path d="M252.9,692.2 v3.1" stroke="#151515" stroke-width="1.5" stroke-linecap="round"/>
<path d="M254.3,692.4 v3.1" stroke="#151515" stroke-width="1.5" stroke-linecap="round"/>
<path d="M245.6,692.8 v3.1" stroke="#151515" stroke-width="1.5" stroke-linecap="round"/>
<path d="M246.0,694.1 v3.1" stroke="#151515" stroke-width="1.5" stroke-linecap="round"/>
<path d="M215.0,694.4 v3.1" stroke="#151515" stroke-width="1.5" stroke-linecap="round"/>
<path d="M254.5,695.3 v3.1" stroke="#151515" stroke-width="1.5" stroke-linecap="round"/>
<path d="M256.9,695.4 v3.1" stroke="#151515" stroke-width="1.5" stroke-linecap="round"/>
<path d="M280.2,695.4 v3.1" stroke="#151515" stroke-width="1.5" stroke-linecap="round"/>
<path d="M265.9,695.9 v3.1" stroke="#151515" stroke-width="1.5" stroke-linecap="round"/>
<path d="M219.4,696.1 v3.1" stroke="#151515" stroke-width="1.5" stroke-linecap="round"/>
<path d="M252.9,696.7 v3.1" stroke="#151515" stroke-width="1.5" stroke-linecap="round"/>
<path d="M210.6,696.9 v3.1" stroke="#151515" stroke-width="1.5" stroke-linecap="round"/>
<path d="M265.1,696.9 v3.1" stroke="#151515" stroke-width="1.5" stroke-linecap="round"/>
<path d="M237.0,697.8 v3.1" stroke="#151515" stroke-width="1.5" stroke-linecap="round"/>
<path d="M211.1,697.9 v3.1" stroke="#151515" stroke-width="1.5" stroke-linecap="round"/>
<path d="M215.6,698.7 v3.1" stroke="#151515" stroke-width="1.5" stroke-linecap="round"/>
<path d="M241.9,698.9 v3.1" stroke="#151515" stroke-width="1.5" stroke-linecap="round"/>
<path d="M210.3,699.4 v3.1" stroke="#151515" stroke-width="1.5" stroke-linecap="round"/>
<path d="M261.8,699.5 v3.1" stroke="#151515" stroke-width="1.5" stroke-linecap="round"/>
<path d="M246.6,699.9 v3.1" stroke="#151515" stroke-width="1.5" stroke-linecap="round"/>
<path d="M283.2,700.0 v3.1" stroke="#151515" stroke-width="1.5" stroke-linecap="round"/>
<path d="M211.6,700.7 v3.1" stroke="#151515" stroke-width="1.5" stroke-linecap="round"/>
<path d="M208.8,701.0 v3.1" stroke="#151515" stroke-width="1.5" stroke-linecap="round"/>
<path d="M274.7,702.3 v3.1" stroke="#151515" stroke-width="1.5" stroke-linecap="round"/>
<path d="M233.3,702.7 v3.1" stroke="#151515" stroke-width="1.5" stroke-linecap="round"/>
<path d="M212.4,703.0 v3.1" stroke="#151515" stroke-width="1.5" stroke-linecap="round"/>
<path d="M233.0,704.1 v3.1" stroke="#151515" stroke-width="1.5" stroke-linecap="round"/>
<path d="M217.2,707.6 v3.1" stroke="#151515" stroke-width="1.5" stroke-linecap="round"/>
<path d="M227.8,708.2 v3.1" stroke="#151515" stroke-width="1.5" stroke-linecap="round"/>
<path d="M290.4,708.5 v3.1" stroke="#151515" stroke-width="1.5" stroke-linecap="round"/>
<path d="M211.4,709.5 v3.1" stroke="#151515" stroke-width="1.5" stroke-linecap="round"/>
<path d="M279.9,710.1 v3.1" stroke="#151515" stroke-width="1.5" stroke-linecap="round"/>
<path d="M285.3,710.7 v3.1" stroke="#151515" stroke-width="1.5" stroke-linecap="round"/>
<path d="M192.6,711.0 v3.1" stroke="#151515" stroke-width="1.5" stroke-linecap="round"/>
<path d="M192.9,711.0 v3.1" stroke="#151515" stroke-width="1.5" stroke-linecap="round"/>
<path d="M219.4,714.2 v3.1" stroke="#151515" stroke-width="1.5" stroke-linecap="round"/>
<path d="M277.7,714.7 v3.1" stroke="#151515" stroke-width="1.5" stroke-linecap="round"/>
<path d="M221.8,715.1 v3.1" stroke="#151515" stroke-width="1.5" stroke-linecap="round"/>
<path d="M273.7,715.7 v3.1" stroke="#151515" stroke-width="1.5" stroke-linecap="round"/>
<path d="M213.8,717.6 v3.1" stroke="#151515" stroke-width="1.5" stroke-linecap="round"/>
<path d="M245.8,723.5 v3.1" stroke="#151515" stroke-width="1.5" stroke-linecap="round"/>
<path d="M252.6,726.3 v3.1" stroke="#151515" stroke-width="1.5" stroke-linecap="round"/>
<path d="M273.6,728.1 v3.1" stroke="#151515" stroke-width="1.5" stroke-linecap="round"/>
<path d="M242.2,728.2 v3.1" stroke="#151515" stroke-width="1.5" stroke-linecap="round"/>
<path d="M231.9,732.7 v3.1" stroke="#151515" stroke-width="1.5" stroke-linecap="round"/>
<path d="M242.3,735.9 v3.1" stroke="#151515" stroke-width="1.5" stroke-linecap="round"/>
<path d="M306.1,714.3 v3.1" stroke="#151515" stroke-width="1.5" stroke-linecap="round"/>
<path d="M316.1,719.7 v3.1" stroke="#151515" stroke-width="1.5" stroke-linecap="round"/>
<path d="M324.1,724.0 v3.1" stroke="#151515" stroke-width="1.5" stroke-linecap="round"/>
<path d="M338.1,731.6 v3.1" stroke="#151515" stroke-width="1.5" stroke-linecap="round"/>
<path d="M349.1,737.5 v3.1" stroke="#151515" stroke-width="1.5" stroke-linecap="round"/>
<path d="M366.1,746.7 v3.1" stroke="#151515" stroke-width="1.5" stroke-linecap="round"/>
<path d="M378.1,753.2 v3.1" stroke="#151515" stroke-width="1.5" stroke-linecap="round"/>
<path d="M390.1,759.6 v3.1" stroke="#151515" stroke-width="1.5" stroke-linecap="round"/>
<path d="M394.1,761.8 v3.1" stroke="#151515" stroke-width="1.5" stroke-linecap="round"/>
<path d="M397.1,763.4 v3.1" stroke="#151515" stroke-width="1.5" stroke-linecap="round"/>
<path d="M401.1,765.6 v3.1" stroke="#151515" stroke-width="1.5" stroke-linecap="round"/>
<path d="M405.5,770.1 v3.1" stroke="#151515" stroke-width="1.5" stroke-linecap="round"/>
<path d="M408.0,771.6 v3.1" stroke="#151515" stroke-width="1.5" stroke-linecap="round"/>
<path d="M410.0,773.1 v3.1" stroke="#151515" stroke-width="1.5" stroke-linecap="round"/>
<path d="M404.5,772.6 v3.1" stroke="#151515" stroke-width="1.5" stroke-linecap="round"/>
<line x1="257.8" y1="529.5" x2="257.8" y2="643.5" stroke="#9a9a9a" stroke-width="0.5"/>
<line x1="297.2" y1="552.2" x2="297.2" y2="666.2" stroke="#9a9a9a" stroke-width="0.5"/>
<line x1="336.7" y1="529.5" x2="336.7" y2="643.5" stroke="#9a9a9a" stroke-width="0.5"/>
<polygon points="257.8,515.5 297.2,538.2 297.2,552.2 257.8,529.5" fill="#fff" stroke="#8c8c8c" stroke-width="0.6" stroke-linejoin="round" />
<polygon points="297.2,538.2 336.7,515.5 336.7,529.5 297.2,552.2" fill="#b4b4b4" stroke="#8c8c8c" stroke-width="0.6" stroke-linejoin="round" />
<polygon points="297.2,492.8 336.7,515.5 297.2,538.2 257.8,515.5" fill="#fff" stroke="#8c8c8c" stroke-width="0.6" stroke-linejoin="round" />
<polygon points="302.4,507.9 289.3,515.5 302.4,523.1" fill="#adadad" stroke="none" stroke-width="0.6" stroke-linejoin="round" />
<polygon points="302.4,507.9 315.6,515.5 302.4,523.1" fill="#fff" stroke="none" stroke-width="0.6" stroke-linejoin="round" />
<polygon points="302.4,507.9 306.1,520.3 302.4,523.1" fill="#adadad" stroke="none" stroke-width="0.6" stroke-linejoin="round" />
<polygon points="302.4,507.9 315.6,515.5 302.4,523.1 289.3,515.5" fill="none" stroke="#8c8c8c" stroke-width="0.6" stroke-linejoin="round" />
<polyline points="302.4,507.9 302.4,523.1" fill="none" stroke="#8c8c8c" stroke-width="0.5" />
<line x1="160.4" y1="587.5" x2="160.4" y2="699.8" stroke="#9a9a9a" stroke-width="0.5"/>
<line x1="199.8" y1="610.3" x2="199.8" y2="722.5" stroke="#9a9a9a" stroke-width="0.5"/>
<line x1="239.2" y1="587.5" x2="239.2" y2="699.8" stroke="#9a9a9a" stroke-width="0.5"/>
<polygon points="160.4,571.1 199.8,593.9 199.8,610.3 160.4,587.5" fill="#fff" stroke="#8c8c8c" stroke-width="0.6" stroke-linejoin="round" />
<polygon points="199.8,593.9 239.2,571.1 239.2,587.5 199.8,610.3" fill="#b4b4b4" stroke="#8c8c8c" stroke-width="0.6" stroke-linejoin="round" />
<polygon points="199.8,548.4 239.2,571.1 199.8,593.9 160.4,571.1" fill="#fff" stroke="#8c8c8c" stroke-width="0.6" stroke-linejoin="round" />
<polygon points="205.0,563.5 191.9,571.1 205.0,578.8" fill="#adadad" stroke="none" stroke-width="0.6" stroke-linejoin="round" />
<polygon points="205.0,563.5 218.2,571.1 205.0,578.8" fill="#fff" stroke="none" stroke-width="0.6" stroke-linejoin="round" />
<polygon points="205.0,563.5 208.7,576.0 205.0,578.8" fill="#adadad" stroke="none" stroke-width="0.6" stroke-linejoin="round" />
<polygon points="205.0,563.5 218.2,571.1 205.0,578.8 191.9,571.1" fill="none" stroke="#8c8c8c" stroke-width="0.6" stroke-linejoin="round" />
<polyline points="205.0,563.5 205.0,578.8" fill="none" stroke="#8c8c8c" stroke-width="0.5" />
<line x1="258.3" y1="587.1" x2="258.3" y2="699.8" stroke="#9a9a9a" stroke-width="0.5"/>
<line x1="297.7" y1="609.9" x2="297.7" y2="722.5" stroke="#9a9a9a" stroke-width="0.5"/>
<line x1="337.1" y1="587.1" x2="337.1" y2="699.8" stroke="#9a9a9a" stroke-width="0.5"/>
<polygon points="258.3,571.5 297.7,594.2 297.7,609.9 258.3,587.1" fill="#fff" stroke="#8c8c8c" stroke-width="0.6" stroke-linejoin="round" />
<polygon points="297.7,594.2 337.1,571.5 337.1,587.1 297.7,609.9" fill="#b4b4b4" stroke="#8c8c8c" stroke-width="0.6" stroke-linejoin="round" />
<polygon points="297.7,548.7 337.1,571.5 297.7,594.2 258.3,571.5" fill="#fff" stroke="#8c8c8c" stroke-width="0.6" stroke-linejoin="round" />
<polygon points="302.9,563.9 289.7,571.5 302.9,579.0" fill="#adadad" stroke="none" stroke-width="0.6" stroke-linejoin="round" />
<polygon points="302.9,563.9 316.0,571.5 302.9,579.0" fill="#fff" stroke="none" stroke-width="0.6" stroke-linejoin="round" />
<polygon points="302.9,563.9 306.6,576.2 302.9,579.0" fill="#adadad" stroke="none" stroke-width="0.6" stroke-linejoin="round" />
<polygon points="302.9,563.9 316.0,571.5 302.9,579.0 289.7,571.5" fill="none" stroke="#8c8c8c" stroke-width="0.6" stroke-linejoin="round" />
<polyline points="302.9,563.9 302.9,579.0" fill="none" stroke="#8c8c8c" stroke-width="0.5" />
<text x="88.6" y="521.6" font-size="12.5" fill="#2e2e2e"  stroke="#fff" stroke-width="0.2">From commerce</text>
<text x="88.6" y="540.2" font-size="12.5" fill="#2e2e2e"  stroke="#fff" stroke-width="0.2">centre</text>
<text x="342.2" y="816.4" font-size="13" fill="#2e2e2e"  stroke="#fff" stroke-width="0.2">From rehab and</text>
<text x="342.2" y="831.8" font-size="13" fill="#2e2e2e"  stroke="#fff" stroke-width="0.2">nursing community</text>
<text x="34.6" y="878.6" font-size="37" fill="#1c1c1c" font-weight="bold" textLength="32.6" lengthAdjust="spacingAndGlyphs" stroke="#fff" stroke-width="0.32">rtf</text>
<text x="75.6" y="877.8" font-size="21.6" fill="#1c1c1c" textLength="145.2" lengthAdjust="spacingAndGlyphs" stroke="#fff" stroke-width="0.55">AWARDS 2023</text>
</svg>
</body></html>
